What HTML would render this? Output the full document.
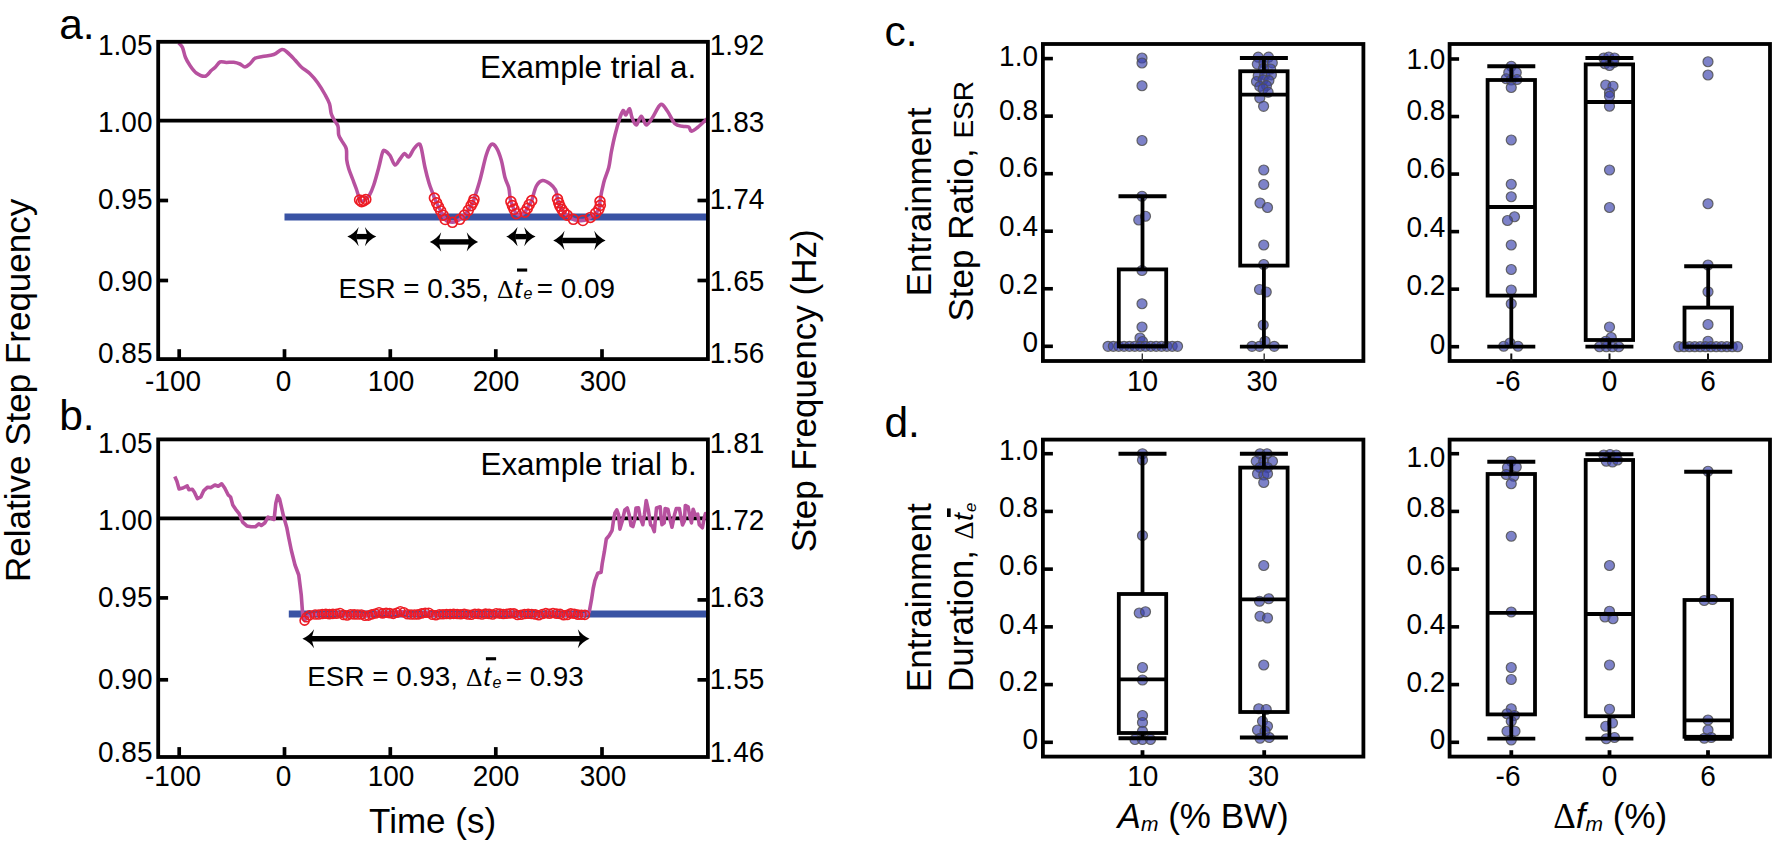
<!DOCTYPE html>
<html><head><meta charset="utf-8"><title>Figure</title>
<style>html,body{margin:0;padding:0;background:#fff}svg{display:block}</style></head>
<body><svg width="1773" height="845" viewBox="0 0 1773 845">
<rect width="1773" height="845" fill="#fff"/>
<g id="panelA">
<line x1="158.20" y1="120.60" x2="707.90" y2="120.60" stroke="#000" stroke-width="3.60" stroke-linecap="butt"/>
<line x1="284.50" y1="216.90" x2="707.90" y2="216.90" stroke="#3953A4" stroke-width="7.00" stroke-linecap="butt"/>
<path d="M178.75,43.00 C179.38,43.75 181.38,45.08 182.50,47.50 C183.62,49.92 184.25,54.50 185.50,57.50 C186.75,60.50 188.21,62.92 190.00,65.50 C191.79,68.08 193.75,71.21 196.25,73.00 C198.75,74.79 202.50,76.67 205.00,76.25 C207.50,75.83 209.50,72.04 211.25,70.50 C213.00,68.96 214.04,68.42 215.50,67.00 C216.96,65.58 218.21,62.75 220.00,62.00 C221.79,61.25 223.96,62.46 226.25,62.50 C228.54,62.54 231.46,62.00 233.75,62.25 C236.04,62.50 238.12,63.21 240.00,64.00 C241.88,64.79 243.33,67.04 245.00,67.00 C246.67,66.96 248.33,65.21 250.00,63.75 C251.67,62.29 252.92,59.46 255.00,58.25 C257.08,57.04 259.38,57.12 262.50,56.50 C265.62,55.88 270.50,55.67 273.75,54.50 C277.00,53.33 279.71,49.83 282.00,49.50 C284.29,49.17 285.33,50.75 287.50,52.50 C289.67,54.25 292.71,57.58 295.00,60.00 C297.29,62.42 298.75,64.71 301.25,67.00 C303.75,69.29 307.29,71.17 310.00,73.75 C312.71,76.33 315.00,79.04 317.50,82.50 C320.00,85.96 323.00,90.96 325.00,94.50 C327.00,98.04 328.46,100.54 329.50,103.75 C330.54,106.96 330.42,110.96 331.25,113.75 C332.08,116.54 333.38,118.42 334.50,120.50 C335.62,122.58 337.29,123.83 338.00,126.25 C338.71,128.67 338.08,132.50 338.75,135.00 C339.42,137.50 340.75,138.96 342.00,141.25 C343.25,143.54 345.46,145.62 346.25,148.75 C347.04,151.88 346.33,156.67 346.75,160.00 C347.17,163.33 347.79,165.62 348.75,168.75 C349.71,171.88 351.25,175.42 352.50,178.75 C353.75,182.08 355.07,185.38 356.25,188.75 C357.43,192.12 358.68,196.91 359.60,199.00 C360.53,201.09 360.98,201.10 361.80,201.30 C362.62,201.50 363.22,201.25 364.50,200.20 C365.78,199.15 367.96,197.53 369.50,195.00 C371.04,192.47 372.21,189.58 373.75,185.00 C375.29,180.42 377.29,172.92 378.75,167.50 C380.21,162.08 381.46,155.29 382.50,152.50 C383.54,149.71 383.75,150.25 385.00,150.75 C386.25,151.25 388.33,153.12 390.00,155.50 C391.67,157.88 393.33,164.42 395.00,165.00 C396.67,165.58 398.42,160.92 400.00,159.00 C401.58,157.08 403.04,153.83 404.50,153.50 C405.96,153.17 407.21,157.75 408.75,157.00 C410.29,156.25 412.08,151.17 413.75,149.00 C415.42,146.83 417.50,144.17 418.75,144.00 C420.00,143.83 420.21,144.08 421.25,148.00 C422.29,151.92 423.71,161.67 425.00,167.50 C426.29,173.33 427.67,178.58 429.00,183.00 C430.33,187.42 432.10,191.48 433.00,194.00 C433.90,196.52 433.80,196.63 434.40,198.10 C435.00,199.57 435.92,201.35 436.60,202.80 C437.28,204.25 437.82,205.45 438.50,206.80 C439.18,208.15 439.93,209.50 440.70,210.90 C441.47,212.30 442.35,213.77 443.10,215.20 C443.85,216.63 444.30,218.43 445.20,219.50 C446.10,220.57 447.30,221.13 448.50,221.60 C449.70,222.07 451.10,222.33 452.40,222.30 C453.70,222.27 455.07,221.90 456.30,221.40 C457.53,220.90 458.43,220.37 459.80,219.30 C461.17,218.23 463.08,216.50 464.50,215.00 C465.92,213.50 467.20,211.87 468.30,210.30 C469.40,208.73 470.32,206.93 471.10,205.60 C471.88,204.27 472.52,203.33 473.00,202.30 C473.48,201.27 472.83,203.12 474.00,199.40 C475.17,195.68 477.96,187.40 480.00,180.00 C482.04,172.60 484.38,160.92 486.25,155.00 C488.12,149.08 489.58,145.75 491.25,144.50 C492.92,143.25 494.58,144.92 496.25,147.50 C497.92,150.08 499.79,155.00 501.25,160.00 C502.71,165.00 503.75,172.92 505.00,177.50 C506.25,182.08 507.92,184.17 508.75,187.50 C509.58,190.83 509.64,195.15 510.00,197.50 C510.36,199.85 510.50,200.25 510.90,201.60 C511.30,202.95 511.88,204.32 512.40,205.60 C512.92,206.88 513.35,207.95 514.00,209.30 C514.65,210.65 515.22,212.72 516.30,213.70 C517.38,214.68 519.08,215.47 520.50,215.20 C521.92,214.93 523.67,213.23 524.80,212.10 C525.93,210.97 526.57,209.63 527.30,208.40 C528.03,207.17 528.47,206.00 529.20,204.70 C529.93,203.40 530.53,203.67 531.70,200.60 C532.88,197.53 534.45,189.60 536.25,186.25 C538.05,182.90 540.21,180.92 542.50,180.50 C544.79,180.08 547.83,182.17 550.00,183.75 C552.17,185.33 554.33,187.96 555.50,190.00 C556.67,192.04 556.67,194.48 557.00,196.00 C557.33,197.52 557.22,197.97 557.50,199.10 C557.78,200.23 558.30,201.62 558.70,202.80 C559.10,203.98 559.38,205.12 559.90,206.20 C560.42,207.28 561.12,208.27 561.80,209.30 C562.48,210.33 563.12,211.42 564.00,212.40 C564.88,213.38 565.55,214.05 567.10,215.20 C568.65,216.35 571.48,218.43 573.30,219.30 C575.12,220.17 576.40,220.20 578.00,220.40 C579.60,220.60 581.40,220.68 582.90,220.50 C584.40,220.32 585.75,219.82 587.00,219.30 C588.25,218.78 588.95,218.43 590.40,217.40 C591.85,216.37 594.30,214.45 595.70,213.10 C597.10,211.75 598.03,210.60 598.80,209.30 C599.57,208.00 600.10,206.63 600.30,205.30 C600.50,203.97 599.42,205.10 600.00,201.30 C600.58,197.50 602.29,188.13 603.75,182.50 C605.21,176.87 607.50,172.50 608.75,167.50 C610.00,162.50 610.21,157.92 611.25,152.50 C612.29,147.08 613.54,140.83 615.00,135.00 C616.46,129.17 618.62,121.58 620.00,117.50 C621.38,113.42 622.29,110.92 623.25,110.50 C624.21,110.08 624.71,115.29 625.75,115.00 C626.79,114.71 628.46,108.33 629.50,108.75 C630.54,109.17 630.88,114.79 632.00,117.50 C633.12,120.21 634.71,125.21 636.25,125.00 C637.79,124.79 639.58,116.25 641.25,116.25 C642.92,116.25 644.38,124.79 646.25,125.00 C648.12,125.21 650.08,120.92 652.50,117.50 C654.92,114.08 658.25,105.54 660.75,104.50 C663.25,103.46 665.12,108.04 667.50,111.25 C669.88,114.46 672.50,121.25 675.00,123.75 C677.50,126.25 680.21,125.71 682.50,126.25 C684.79,126.79 687.29,126.17 688.75,127.00 C690.21,127.83 689.79,131.17 691.25,131.25 C692.71,131.33 694.88,129.58 697.50,127.50 C700.12,125.42 705.42,120.21 707.00,118.75" fill="none" stroke="#B7519F" stroke-width="3.55" stroke-linejoin="round" stroke-linecap="butt"/>
<circle cx="359.60" cy="200.00" r="4.95" fill="none" stroke="#ED1C24" stroke-width="1.65"/>
<circle cx="361.60" cy="201.70" r="4.95" fill="none" stroke="#ED1C24" stroke-width="1.65"/>
<circle cx="363.60" cy="200.80" r="4.95" fill="none" stroke="#ED1C24" stroke-width="1.65"/>
<circle cx="365.80" cy="199.40" r="4.95" fill="none" stroke="#ED1C24" stroke-width="1.65"/>
<circle cx="434.40" cy="198.10" r="4.95" fill="none" stroke="#ED1C24" stroke-width="1.65"/>
<circle cx="436.60" cy="202.80" r="4.95" fill="none" stroke="#ED1C24" stroke-width="1.65"/>
<circle cx="438.50" cy="206.80" r="4.95" fill="none" stroke="#ED1C24" stroke-width="1.65"/>
<circle cx="440.70" cy="210.90" r="4.95" fill="none" stroke="#ED1C24" stroke-width="1.65"/>
<circle cx="443.10" cy="215.20" r="4.95" fill="none" stroke="#ED1C24" stroke-width="1.65"/>
<circle cx="445.20" cy="219.50" r="4.95" fill="none" stroke="#ED1C24" stroke-width="1.65"/>
<circle cx="452.40" cy="222.30" r="4.95" fill="none" stroke="#ED1C24" stroke-width="1.65"/>
<circle cx="459.80" cy="219.30" r="4.95" fill="none" stroke="#ED1C24" stroke-width="1.65"/>
<circle cx="464.50" cy="215.00" r="4.95" fill="none" stroke="#ED1C24" stroke-width="1.65"/>
<circle cx="468.30" cy="210.30" r="4.95" fill="none" stroke="#ED1C24" stroke-width="1.65"/>
<circle cx="471.10" cy="205.60" r="4.95" fill="none" stroke="#ED1C24" stroke-width="1.65"/>
<circle cx="473.00" cy="202.30" r="4.95" fill="none" stroke="#ED1C24" stroke-width="1.65"/>
<circle cx="474.00" cy="199.40" r="4.95" fill="none" stroke="#ED1C24" stroke-width="1.65"/>
<circle cx="510.90" cy="201.60" r="4.95" fill="none" stroke="#ED1C24" stroke-width="1.65"/>
<circle cx="512.40" cy="205.60" r="4.95" fill="none" stroke="#ED1C24" stroke-width="1.65"/>
<circle cx="514.00" cy="209.30" r="4.95" fill="none" stroke="#ED1C24" stroke-width="1.65"/>
<circle cx="516.30" cy="213.70" r="4.95" fill="none" stroke="#ED1C24" stroke-width="1.65"/>
<circle cx="524.80" cy="212.10" r="4.95" fill="none" stroke="#ED1C24" stroke-width="1.65"/>
<circle cx="527.30" cy="208.40" r="4.95" fill="none" stroke="#ED1C24" stroke-width="1.65"/>
<circle cx="529.20" cy="204.70" r="4.95" fill="none" stroke="#ED1C24" stroke-width="1.65"/>
<circle cx="531.70" cy="200.60" r="4.95" fill="none" stroke="#ED1C24" stroke-width="1.65"/>
<circle cx="557.50" cy="199.10" r="4.95" fill="none" stroke="#ED1C24" stroke-width="1.65"/>
<circle cx="558.70" cy="202.80" r="4.95" fill="none" stroke="#ED1C24" stroke-width="1.65"/>
<circle cx="559.90" cy="206.20" r="4.95" fill="none" stroke="#ED1C24" stroke-width="1.65"/>
<circle cx="561.80" cy="209.30" r="4.95" fill="none" stroke="#ED1C24" stroke-width="1.65"/>
<circle cx="564.00" cy="212.40" r="4.95" fill="none" stroke="#ED1C24" stroke-width="1.65"/>
<circle cx="567.10" cy="215.20" r="4.95" fill="none" stroke="#ED1C24" stroke-width="1.65"/>
<circle cx="573.30" cy="219.30" r="4.95" fill="none" stroke="#ED1C24" stroke-width="1.65"/>
<circle cx="582.90" cy="220.50" r="4.95" fill="none" stroke="#ED1C24" stroke-width="1.65"/>
<circle cx="590.40" cy="217.40" r="4.95" fill="none" stroke="#ED1C24" stroke-width="1.65"/>
<circle cx="595.70" cy="213.10" r="4.95" fill="none" stroke="#ED1C24" stroke-width="1.65"/>
<circle cx="598.80" cy="209.30" r="4.95" fill="none" stroke="#ED1C24" stroke-width="1.65"/>
<circle cx="600.30" cy="205.30" r="4.95" fill="none" stroke="#ED1C24" stroke-width="1.65"/>
<circle cx="600.00" cy="201.30" r="4.95" fill="none" stroke="#ED1C24" stroke-width="1.65"/>
<line x1="356.30" y1="236.60" x2="367.30" y2="236.60" stroke="#000" stroke-width="5.40"/>
<path d="M347.30,236.60 Q354.37,233.30 358.70,226.90 L356.80,233.90 L356.80,239.30 L358.70,246.30 Q354.37,239.90 347.30,236.60 Z" fill="#000"/>
<path d="M376.30,236.60 Q369.23,233.30 364.90,226.90 L366.80,233.90 L366.80,239.30 L364.90,246.30 Q369.23,239.90 376.30,236.60 Z" fill="#000"/>
<line x1="438.80" y1="241.90" x2="469.10" y2="241.90" stroke="#000" stroke-width="5.40"/>
<path d="M429.80,241.90 Q436.87,238.60 441.20,232.20 L439.30,239.20 L439.30,244.60 L441.20,251.60 Q436.87,245.20 429.80,241.90 Z" fill="#000"/>
<path d="M478.10,241.90 Q471.03,238.60 466.70,232.20 L468.60,239.20 L468.60,244.60 L466.70,251.60 Q471.03,245.20 478.10,241.90 Z" fill="#000"/>
<line x1="515.20" y1="236.60" x2="526.60" y2="236.60" stroke="#000" stroke-width="5.40"/>
<path d="M506.20,236.60 Q513.27,233.30 517.60,226.90 L515.70,233.90 L515.70,239.30 L517.60,246.30 Q513.27,239.90 506.20,236.60 Z" fill="#000"/>
<path d="M535.60,236.60 Q528.53,233.30 524.20,226.90 L526.10,233.90 L526.10,239.30 L524.20,246.30 Q528.53,239.90 535.60,236.60 Z" fill="#000"/>
<line x1="562.20" y1="240.50" x2="596.60" y2="240.50" stroke="#000" stroke-width="5.40"/>
<path d="M553.20,240.50 Q560.27,237.20 564.60,230.80 L562.70,237.80 L562.70,243.20 L564.60,250.20 Q560.27,243.80 553.20,240.50 Z" fill="#000"/>
<path d="M605.60,240.50 Q598.53,237.20 594.20,230.80 L596.10,237.80 L596.10,243.20 L594.20,250.20 Q598.53,243.80 605.60,240.50 Z" fill="#000"/>
<rect x="158.20" y="41.80" width="549.70" height="317.30" fill="none" stroke="#000" stroke-width="3.80"/>
<line x1="158.20" y1="200.50" x2="168.10" y2="200.50" stroke="#000" stroke-width="3.70" stroke-linecap="butt"/>
<line x1="697.50" y1="200.50" x2="707.90" y2="200.50" stroke="#000" stroke-width="3.70" stroke-linecap="butt"/>
<line x1="158.20" y1="280.50" x2="168.10" y2="280.50" stroke="#000" stroke-width="3.70" stroke-linecap="butt"/>
<line x1="697.50" y1="280.50" x2="707.90" y2="280.50" stroke="#000" stroke-width="3.70" stroke-linecap="butt"/>
<line x1="179.20" y1="359.10" x2="179.20" y2="349.20" stroke="#000" stroke-width="3.70" stroke-linecap="butt"/>
<line x1="284.50" y1="359.10" x2="284.50" y2="349.20" stroke="#000" stroke-width="3.70" stroke-linecap="butt"/>
<line x1="390.30" y1="359.10" x2="390.30" y2="349.20" stroke="#000" stroke-width="3.70" stroke-linecap="butt"/>
<line x1="495.80" y1="359.10" x2="495.80" y2="349.20" stroke="#000" stroke-width="3.70" stroke-linecap="butt"/>
<line x1="602.00" y1="359.10" x2="602.00" y2="349.20" stroke="#000" stroke-width="3.70" stroke-linecap="butt"/>
<text transform="translate(152.50,55.00) scale(1,1.045)" font-size="28.00" text-anchor="end" font-family='"Liberation Sans", Arial, sans-serif'>1.05</text>
<text transform="translate(152.50,131.80) scale(1,1.045)" font-size="28.00" text-anchor="end" font-family='"Liberation Sans", Arial, sans-serif'>1.00</text>
<text transform="translate(152.50,208.80) scale(1,1.045)" font-size="28.00" text-anchor="end" font-family='"Liberation Sans", Arial, sans-serif'>0.95</text>
<text transform="translate(152.50,290.60) scale(1,1.045)" font-size="28.00" text-anchor="end" font-family='"Liberation Sans", Arial, sans-serif'>0.90</text>
<text transform="translate(152.50,362.80) scale(1,1.045)" font-size="28.00" text-anchor="end" font-family='"Liberation Sans", Arial, sans-serif'>0.85</text>
<text transform="translate(709.80,55.00) scale(1,1.045)" font-size="28.00" text-anchor="start" font-family='"Liberation Sans", Arial, sans-serif'>1.92</text>
<text transform="translate(709.80,131.80) scale(1,1.045)" font-size="28.00" text-anchor="start" font-family='"Liberation Sans", Arial, sans-serif'>1.83</text>
<text transform="translate(709.80,208.80) scale(1,1.045)" font-size="28.00" text-anchor="start" font-family='"Liberation Sans", Arial, sans-serif'>1.74</text>
<text transform="translate(709.80,290.60) scale(1,1.045)" font-size="28.00" text-anchor="start" font-family='"Liberation Sans", Arial, sans-serif'>1.65</text>
<text transform="translate(709.80,362.80) scale(1,1.045)" font-size="28.00" text-anchor="start" font-family='"Liberation Sans", Arial, sans-serif'>1.56</text>
<text transform="translate(173.00,391.10) scale(1,1.045)" font-size="28.00" text-anchor="middle" font-family='"Liberation Sans", Arial, sans-serif'>-100</text>
<text transform="translate(283.50,391.10) scale(1,1.045)" font-size="28.00" text-anchor="middle" font-family='"Liberation Sans", Arial, sans-serif'>0</text>
<text transform="translate(391.00,391.10) scale(1,1.045)" font-size="28.00" text-anchor="middle" font-family='"Liberation Sans", Arial, sans-serif'>100</text>
<text transform="translate(496.00,391.10) scale(1,1.045)" font-size="28.00" text-anchor="middle" font-family='"Liberation Sans", Arial, sans-serif'>200</text>
<text transform="translate(603.00,391.10) scale(1,1.045)" font-size="28.00" text-anchor="middle" font-family='"Liberation Sans", Arial, sans-serif'>300</text>
<text x="696.30" y="77.80" font-size="31.40" text-anchor="end" font-family='"Liberation Sans", Arial, sans-serif' >Example trial a.</text>
</g>
<g id="panelB">
<line x1="158.20" y1="518.40" x2="707.90" y2="518.40" stroke="#000" stroke-width="3.60" stroke-linecap="butt"/>
<line x1="288.80" y1="614.10" x2="707.90" y2="614.10" stroke="#3953A4" stroke-width="7.00" stroke-linecap="butt"/>
<path d="M174.80,476.50 L176.90,481.20 L179.10,488.90 L182.90,488.00 L187.20,485.90 L188.90,489.70 L192.30,489.30 L194.40,492.30 L197.40,498.70 L200.80,497.00 L203.80,490.60 L207.60,487.20 L211.00,487.60 L214.90,485.00 L218.30,486.30 L221.70,483.80 L224.70,488.00 L228.10,494.80 L230.60,497.00 L232.80,505.10 L235.70,509.30 L239.10,513.60 L242.60,522.10 L246.80,525.90 L251.10,526.80 L255.30,526.80 L258.80,523.80 L261.30,525.50 L264.70,523.00 L268.10,517.00 L270.70,518.30 L274.10,519.50 L275.80,503.40 L277.70,495.70 L279.60,499.10 L283.50,516.10 L286.90,528.10 L288.60,537.00 L291.25,550.00 L295.00,565.00 L298.75,575.00 L301.25,595.00 L303.00,619.00 L304.60,620.60 L306.60,617.30 L309.50,615.30 L315.15,614.57 L318.70,614.54 L322.25,614.01 L325.80,613.70 L329.35,614.17 L332.90,613.86 L336.45,613.76 L340.00,612.95 L343.55,614.91 L347.10,615.50 L350.65,614.32 L354.20,614.38 L357.75,614.49 L361.30,614.45 L364.85,615.74 L368.40,615.58 L371.95,614.35 L375.50,613.44 L379.05,612.24 L382.60,613.39 L386.15,612.82 L389.70,613.16 L393.25,613.83 L396.80,612.78 L400.35,611.27 L403.90,612.18 L407.45,614.24 L411.00,614.54 L414.55,614.55 L418.10,614.41 L421.65,613.40 L425.20,612.78 L428.75,612.81 L432.30,614.82 L435.85,615.23 L439.40,614.20 L442.95,614.26 L446.50,614.03 L450.05,614.12 L453.60,613.86 L457.15,613.94 L460.70,614.23 L464.25,613.71 L467.80,614.52 L471.35,614.79 L474.90,613.76 L478.45,613.88 L482.00,614.44 L485.55,613.67 L489.10,613.90 L492.65,614.53 L496.20,613.29 L499.75,613.60 L503.30,614.07 L506.85,613.75 L510.40,613.37 L513.95,613.35 L517.50,614.97 L521.05,614.81 L524.60,613.98 L528.15,613.77 L531.70,613.95 L535.25,614.42 L538.80,615.19 L542.35,614.05 L545.90,613.13 L549.45,613.77 L553.00,613.03 L556.55,613.65 L560.10,613.90 L563.65,615.27 L567.20,614.92 L570.75,613.35 L574.30,613.78 L577.85,614.66 L581.40,614.68 L584.95,614.87 L589.20,612.10 L591.50,599.70 L593.20,588.50 L594.90,580.60 L597.70,573.30 L601.10,572.20 L602.20,563.70 L604.40,551.40 L606.30,539.00 L609.30,535.30 L612.10,530.30 L613.60,519.80 L614.90,513.00 L616.80,509.90 L618.60,514.80 L619.90,529.10 L622.30,521.00 L624.80,509.90 L627.30,508.00 L629.20,514.80 L631.00,525.40 L632.90,526.60 L634.70,519.80 L636.00,508.00 L638.50,507.70 L640.00,516.70 L642.80,524.70 L644.40,514.80 L646.20,500.50 L648.40,510.50 L650.60,524.70 L652.40,526.60 L654.30,531.60 L655.20,521.00 L656.50,508.00 L660.20,506.80 L661.10,517.90 L662.00,524.70 L664.20,522.90 L665.10,508.60 L667.90,509.20 L670.10,519.80 L672.00,527.20 L674.50,514.80 L676.30,508.60 L679.40,508.60 L681.30,519.20 L682.50,525.00 L684.40,521.00 L685.30,505.50 L688.10,506.80 L690.00,517.30 L691.50,522.90 L693.10,509.20 L695.20,514.80 L697.70,514.20 L699.30,524.70 L702.40,527.80 L704.20,517.90 L705.50,513.60 L707.50,514.20" fill="none" stroke="#B7519F" stroke-width="3.6" stroke-linejoin="round" stroke-linecap="butt"/>
<circle cx="304.60" cy="620.60" r="4.50" fill="none" stroke="#ED1C24" stroke-width="1.60"/>
<circle cx="306.60" cy="617.30" r="4.50" fill="none" stroke="#ED1C24" stroke-width="1.60"/>
<circle cx="309.50" cy="615.30" r="4.50" fill="none" stroke="#ED1C24" stroke-width="1.60"/>
<circle cx="315.15" cy="614.57" r="4.50" fill="none" stroke="#ED1C24" stroke-width="1.60"/>
<circle cx="318.70" cy="614.54" r="4.50" fill="none" stroke="#ED1C24" stroke-width="1.60"/>
<circle cx="322.25" cy="614.01" r="4.50" fill="none" stroke="#ED1C24" stroke-width="1.60"/>
<circle cx="325.80" cy="613.70" r="4.50" fill="none" stroke="#ED1C24" stroke-width="1.60"/>
<circle cx="329.35" cy="614.17" r="4.50" fill="none" stroke="#ED1C24" stroke-width="1.60"/>
<circle cx="332.90" cy="613.86" r="4.50" fill="none" stroke="#ED1C24" stroke-width="1.60"/>
<circle cx="336.45" cy="613.76" r="4.50" fill="none" stroke="#ED1C24" stroke-width="1.60"/>
<circle cx="340.00" cy="612.95" r="4.50" fill="none" stroke="#ED1C24" stroke-width="1.60"/>
<circle cx="343.55" cy="614.91" r="4.50" fill="none" stroke="#ED1C24" stroke-width="1.60"/>
<circle cx="347.10" cy="615.50" r="4.50" fill="none" stroke="#ED1C24" stroke-width="1.60"/>
<circle cx="350.65" cy="614.32" r="4.50" fill="none" stroke="#ED1C24" stroke-width="1.60"/>
<circle cx="354.20" cy="614.38" r="4.50" fill="none" stroke="#ED1C24" stroke-width="1.60"/>
<circle cx="357.75" cy="614.49" r="4.50" fill="none" stroke="#ED1C24" stroke-width="1.60"/>
<circle cx="361.30" cy="614.45" r="4.50" fill="none" stroke="#ED1C24" stroke-width="1.60"/>
<circle cx="364.85" cy="615.74" r="4.50" fill="none" stroke="#ED1C24" stroke-width="1.60"/>
<circle cx="368.40" cy="615.58" r="4.50" fill="none" stroke="#ED1C24" stroke-width="1.60"/>
<circle cx="371.95" cy="614.35" r="4.50" fill="none" stroke="#ED1C24" stroke-width="1.60"/>
<circle cx="375.50" cy="613.44" r="4.50" fill="none" stroke="#ED1C24" stroke-width="1.60"/>
<circle cx="379.05" cy="612.24" r="4.50" fill="none" stroke="#ED1C24" stroke-width="1.60"/>
<circle cx="382.60" cy="613.39" r="4.50" fill="none" stroke="#ED1C24" stroke-width="1.60"/>
<circle cx="386.15" cy="612.82" r="4.50" fill="none" stroke="#ED1C24" stroke-width="1.60"/>
<circle cx="389.70" cy="613.16" r="4.50" fill="none" stroke="#ED1C24" stroke-width="1.60"/>
<circle cx="393.25" cy="613.83" r="4.50" fill="none" stroke="#ED1C24" stroke-width="1.60"/>
<circle cx="396.80" cy="612.78" r="4.50" fill="none" stroke="#ED1C24" stroke-width="1.60"/>
<circle cx="400.35" cy="611.27" r="4.50" fill="none" stroke="#ED1C24" stroke-width="1.60"/>
<circle cx="403.90" cy="612.18" r="4.50" fill="none" stroke="#ED1C24" stroke-width="1.60"/>
<circle cx="407.45" cy="614.24" r="4.50" fill="none" stroke="#ED1C24" stroke-width="1.60"/>
<circle cx="411.00" cy="614.54" r="4.50" fill="none" stroke="#ED1C24" stroke-width="1.60"/>
<circle cx="414.55" cy="614.55" r="4.50" fill="none" stroke="#ED1C24" stroke-width="1.60"/>
<circle cx="418.10" cy="614.41" r="4.50" fill="none" stroke="#ED1C24" stroke-width="1.60"/>
<circle cx="421.65" cy="613.40" r="4.50" fill="none" stroke="#ED1C24" stroke-width="1.60"/>
<circle cx="425.20" cy="612.78" r="4.50" fill="none" stroke="#ED1C24" stroke-width="1.60"/>
<circle cx="428.75" cy="612.81" r="4.50" fill="none" stroke="#ED1C24" stroke-width="1.60"/>
<circle cx="432.30" cy="614.82" r="4.50" fill="none" stroke="#ED1C24" stroke-width="1.60"/>
<circle cx="435.85" cy="615.23" r="4.50" fill="none" stroke="#ED1C24" stroke-width="1.60"/>
<circle cx="439.40" cy="614.20" r="4.50" fill="none" stroke="#ED1C24" stroke-width="1.60"/>
<circle cx="442.95" cy="614.26" r="4.50" fill="none" stroke="#ED1C24" stroke-width="1.60"/>
<circle cx="446.50" cy="614.03" r="4.50" fill="none" stroke="#ED1C24" stroke-width="1.60"/>
<circle cx="450.05" cy="614.12" r="4.50" fill="none" stroke="#ED1C24" stroke-width="1.60"/>
<circle cx="453.60" cy="613.86" r="4.50" fill="none" stroke="#ED1C24" stroke-width="1.60"/>
<circle cx="457.15" cy="613.94" r="4.50" fill="none" stroke="#ED1C24" stroke-width="1.60"/>
<circle cx="460.70" cy="614.23" r="4.50" fill="none" stroke="#ED1C24" stroke-width="1.60"/>
<circle cx="464.25" cy="613.71" r="4.50" fill="none" stroke="#ED1C24" stroke-width="1.60"/>
<circle cx="467.80" cy="614.52" r="4.50" fill="none" stroke="#ED1C24" stroke-width="1.60"/>
<circle cx="471.35" cy="614.79" r="4.50" fill="none" stroke="#ED1C24" stroke-width="1.60"/>
<circle cx="474.90" cy="613.76" r="4.50" fill="none" stroke="#ED1C24" stroke-width="1.60"/>
<circle cx="478.45" cy="613.88" r="4.50" fill="none" stroke="#ED1C24" stroke-width="1.60"/>
<circle cx="482.00" cy="614.44" r="4.50" fill="none" stroke="#ED1C24" stroke-width="1.60"/>
<circle cx="485.55" cy="613.67" r="4.50" fill="none" stroke="#ED1C24" stroke-width="1.60"/>
<circle cx="489.10" cy="613.90" r="4.50" fill="none" stroke="#ED1C24" stroke-width="1.60"/>
<circle cx="492.65" cy="614.53" r="4.50" fill="none" stroke="#ED1C24" stroke-width="1.60"/>
<circle cx="496.20" cy="613.29" r="4.50" fill="none" stroke="#ED1C24" stroke-width="1.60"/>
<circle cx="499.75" cy="613.60" r="4.50" fill="none" stroke="#ED1C24" stroke-width="1.60"/>
<circle cx="503.30" cy="614.07" r="4.50" fill="none" stroke="#ED1C24" stroke-width="1.60"/>
<circle cx="506.85" cy="613.75" r="4.50" fill="none" stroke="#ED1C24" stroke-width="1.60"/>
<circle cx="510.40" cy="613.37" r="4.50" fill="none" stroke="#ED1C24" stroke-width="1.60"/>
<circle cx="513.95" cy="613.35" r="4.50" fill="none" stroke="#ED1C24" stroke-width="1.60"/>
<circle cx="517.50" cy="614.97" r="4.50" fill="none" stroke="#ED1C24" stroke-width="1.60"/>
<circle cx="521.05" cy="614.81" r="4.50" fill="none" stroke="#ED1C24" stroke-width="1.60"/>
<circle cx="524.60" cy="613.98" r="4.50" fill="none" stroke="#ED1C24" stroke-width="1.60"/>
<circle cx="528.15" cy="613.77" r="4.50" fill="none" stroke="#ED1C24" stroke-width="1.60"/>
<circle cx="531.70" cy="613.95" r="4.50" fill="none" stroke="#ED1C24" stroke-width="1.60"/>
<circle cx="535.25" cy="614.42" r="4.50" fill="none" stroke="#ED1C24" stroke-width="1.60"/>
<circle cx="538.80" cy="615.19" r="4.50" fill="none" stroke="#ED1C24" stroke-width="1.60"/>
<circle cx="542.35" cy="614.05" r="4.50" fill="none" stroke="#ED1C24" stroke-width="1.60"/>
<circle cx="545.90" cy="613.13" r="4.50" fill="none" stroke="#ED1C24" stroke-width="1.60"/>
<circle cx="549.45" cy="613.77" r="4.50" fill="none" stroke="#ED1C24" stroke-width="1.60"/>
<circle cx="553.00" cy="613.03" r="4.50" fill="none" stroke="#ED1C24" stroke-width="1.60"/>
<circle cx="556.55" cy="613.65" r="4.50" fill="none" stroke="#ED1C24" stroke-width="1.60"/>
<circle cx="560.10" cy="613.90" r="4.50" fill="none" stroke="#ED1C24" stroke-width="1.60"/>
<circle cx="563.65" cy="615.27" r="4.50" fill="none" stroke="#ED1C24" stroke-width="1.60"/>
<circle cx="567.20" cy="614.92" r="4.50" fill="none" stroke="#ED1C24" stroke-width="1.60"/>
<circle cx="570.75" cy="613.35" r="4.50" fill="none" stroke="#ED1C24" stroke-width="1.60"/>
<circle cx="574.30" cy="613.78" r="4.50" fill="none" stroke="#ED1C24" stroke-width="1.60"/>
<circle cx="577.85" cy="614.66" r="4.50" fill="none" stroke="#ED1C24" stroke-width="1.60"/>
<circle cx="581.40" cy="614.68" r="4.50" fill="none" stroke="#ED1C24" stroke-width="1.60"/>
<circle cx="584.95" cy="614.87" r="4.50" fill="none" stroke="#ED1C24" stroke-width="1.60"/>
<line x1="311.70" y1="638.70" x2="580.20" y2="638.70" stroke="#000" stroke-width="5.60"/>
<path d="M302.40,638.70 Q309.65,635.47 314.10,629.20 L312.20,635.90 L312.20,641.50 L314.10,648.20 Q309.65,641.93 302.40,638.70 Z" fill="#000"/>
<path d="M589.50,638.70 Q582.25,635.47 577.80,629.20 L579.70,635.90 L579.70,641.50 L577.80,648.20 Q582.25,641.93 589.50,638.70 Z" fill="#000"/>
<rect x="158.20" y="439.40" width="549.70" height="317.60" fill="none" stroke="#000" stroke-width="3.80"/>
<line x1="158.20" y1="597.90" x2="168.10" y2="597.90" stroke="#000" stroke-width="3.70" stroke-linecap="butt"/>
<line x1="697.50" y1="599.90" x2="707.90" y2="599.90" stroke="#000" stroke-width="3.70" stroke-linecap="butt"/>
<line x1="158.20" y1="679.80" x2="168.10" y2="679.80" stroke="#000" stroke-width="3.70" stroke-linecap="butt"/>
<line x1="697.50" y1="679.85" x2="707.90" y2="679.85" stroke="#000" stroke-width="3.70" stroke-linecap="butt"/>
<line x1="179.20" y1="757.00" x2="179.20" y2="747.10" stroke="#000" stroke-width="3.70" stroke-linecap="butt"/>
<line x1="284.50" y1="757.00" x2="284.50" y2="747.10" stroke="#000" stroke-width="3.70" stroke-linecap="butt"/>
<line x1="390.30" y1="757.00" x2="390.30" y2="747.10" stroke="#000" stroke-width="3.70" stroke-linecap="butt"/>
<line x1="495.80" y1="757.00" x2="495.80" y2="747.10" stroke="#000" stroke-width="3.70" stroke-linecap="butt"/>
<line x1="602.00" y1="757.00" x2="602.00" y2="747.10" stroke="#000" stroke-width="3.70" stroke-linecap="butt"/>
<text transform="translate(152.50,452.90) scale(1,1.045)" font-size="28.00" text-anchor="end" font-family='"Liberation Sans", Arial, sans-serif'>1.05</text>
<text transform="translate(152.50,529.90) scale(1,1.045)" font-size="28.00" text-anchor="end" font-family='"Liberation Sans", Arial, sans-serif'>1.00</text>
<text transform="translate(152.50,606.90) scale(1,1.045)" font-size="28.00" text-anchor="end" font-family='"Liberation Sans", Arial, sans-serif'>0.95</text>
<text transform="translate(152.50,688.80) scale(1,1.045)" font-size="28.00" text-anchor="end" font-family='"Liberation Sans", Arial, sans-serif'>0.90</text>
<text transform="translate(152.50,761.90) scale(1,1.045)" font-size="28.00" text-anchor="end" font-family='"Liberation Sans", Arial, sans-serif'>0.85</text>
<text transform="translate(709.80,452.90) scale(1,1.045)" font-size="28.00" text-anchor="start" font-family='"Liberation Sans", Arial, sans-serif'>1.81</text>
<text transform="translate(709.80,529.90) scale(1,1.045)" font-size="28.00" text-anchor="start" font-family='"Liberation Sans", Arial, sans-serif'>1.72</text>
<text transform="translate(709.80,606.90) scale(1,1.045)" font-size="28.00" text-anchor="start" font-family='"Liberation Sans", Arial, sans-serif'>1.63</text>
<text transform="translate(709.80,688.80) scale(1,1.045)" font-size="28.00" text-anchor="start" font-family='"Liberation Sans", Arial, sans-serif'>1.55</text>
<text transform="translate(709.80,761.90) scale(1,1.045)" font-size="28.00" text-anchor="start" font-family='"Liberation Sans", Arial, sans-serif'>1.46</text>
<text transform="translate(173.00,786.00) scale(1,1.045)" font-size="28.00" text-anchor="middle" font-family='"Liberation Sans", Arial, sans-serif'>-100</text>
<text transform="translate(283.50,786.00) scale(1,1.045)" font-size="28.00" text-anchor="middle" font-family='"Liberation Sans", Arial, sans-serif'>0</text>
<text transform="translate(391.00,786.00) scale(1,1.045)" font-size="28.00" text-anchor="middle" font-family='"Liberation Sans", Arial, sans-serif'>100</text>
<text transform="translate(496.00,786.00) scale(1,1.045)" font-size="28.00" text-anchor="middle" font-family='"Liberation Sans", Arial, sans-serif'>200</text>
<text transform="translate(603.00,786.00) scale(1,1.045)" font-size="28.00" text-anchor="middle" font-family='"Liberation Sans", Arial, sans-serif'>300</text>
<text x="696.80" y="475.00" font-size="31.40" text-anchor="end" font-family='"Liberation Sans", Arial, sans-serif' >Example trial b.</text>
</g>
<text x="59.20" y="39.20" font-size="42.50" text-anchor="start" font-family='"Liberation Sans", Arial, sans-serif' >a.</text>
<text x="59.20" y="429.80" font-size="42.50" text-anchor="start" font-family='"Liberation Sans", Arial, sans-serif' >b.</text>
<text x="884.40" y="46.00" font-size="42.50" text-anchor="start" font-family='"Liberation Sans", Arial, sans-serif' >c.</text>
<text x="884.40" y="437.10" font-size="42.50" text-anchor="start" font-family='"Liberation Sans", Arial, sans-serif' >d.</text>
<text transform="translate(29.7,582) rotate(-90)" font-size="35" font-family='"Liberation Sans", Arial, sans-serif'>Relative Step Frequency</text>
<text transform="translate(816.2,552.3) rotate(-90)" font-size="35" font-family='"Liberation Sans", Arial, sans-serif'>Step Frequency (Hz)</text>
<text x="432.60" y="833.10" font-size="35.00" text-anchor="middle" font-family='"Liberation Sans", Arial, sans-serif' >Time (s)</text>
<text x="338.40" y="297.60" font-size="27.80" font-family='"Liberation Sans", Arial, sans-serif'>ESR = 0.35,</text>
<text x="497.00" y="297.60" font-size="25.5" font-family='"Liberation Serif", "Times New Roman", serif'>Δ</text>
<text x="514.30" y="297.60" font-size="27.80" font-style="italic" font-family='"Liberation Sans", Arial, sans-serif'>t</text>
<text x="523.60" y="299.30" font-size="16" font-style="italic" font-family='"Liberation Sans", Arial, sans-serif'>e</text>
<text x="536.80" y="297.60" font-size="27.80" font-family='"Liberation Sans", Arial, sans-serif'>= 0.09</text>
<rect x="517.00" y="268.50" width="10.2" height="3.1" fill="#000"/>
<text x="307.30" y="686.30" font-size="27.80" font-family='"Liberation Sans", Arial, sans-serif'>ESR = 0.93,</text>
<text x="465.90" y="686.30" font-size="25.5" font-family='"Liberation Serif", "Times New Roman", serif'>Δ</text>
<text x="483.20" y="686.30" font-size="27.80" font-style="italic" font-family='"Liberation Sans", Arial, sans-serif'>t</text>
<text x="492.50" y="688.00" font-size="16" font-style="italic" font-family='"Liberation Sans", Arial, sans-serif'>e</text>
<text x="505.70" y="686.30" font-size="27.80" font-family='"Liberation Sans", Arial, sans-serif'>= 0.93</text>
<rect x="485.90" y="657.20" width="10.2" height="3.1" fill="#000"/>
<g id="cleft">
<circle cx="1142.00" cy="58.00" r="5.00" fill="#3a41ad" fill-opacity="0.66" stroke="#505050" stroke-opacity="0.85" stroke-width="1.2"/>
<circle cx="1142.00" cy="63.00" r="5.00" fill="#3a41ad" fill-opacity="0.66" stroke="#505050" stroke-opacity="0.85" stroke-width="1.2"/>
<circle cx="1142.00" cy="85.75" r="5.00" fill="#3a41ad" fill-opacity="0.66" stroke="#505050" stroke-opacity="0.85" stroke-width="1.2"/>
<circle cx="1142.00" cy="140.50" r="5.00" fill="#3a41ad" fill-opacity="0.66" stroke="#505050" stroke-opacity="0.85" stroke-width="1.2"/>
<circle cx="1142.00" cy="196.25" r="5.00" fill="#3a41ad" fill-opacity="0.66" stroke="#505050" stroke-opacity="0.85" stroke-width="1.2"/>
<circle cx="1138.75" cy="220.00" r="5.00" fill="#3a41ad" fill-opacity="0.66" stroke="#505050" stroke-opacity="0.85" stroke-width="1.2"/>
<circle cx="1145.50" cy="216.25" r="5.00" fill="#3a41ad" fill-opacity="0.66" stroke="#505050" stroke-opacity="0.85" stroke-width="1.2"/>
<circle cx="1142.00" cy="270.50" r="5.00" fill="#3a41ad" fill-opacity="0.66" stroke="#505050" stroke-opacity="0.85" stroke-width="1.2"/>
<circle cx="1142.00" cy="303.75" r="5.00" fill="#3a41ad" fill-opacity="0.66" stroke="#505050" stroke-opacity="0.85" stroke-width="1.2"/>
<circle cx="1142.00" cy="327.00" r="5.00" fill="#3a41ad" fill-opacity="0.66" stroke="#505050" stroke-opacity="0.85" stroke-width="1.2"/>
<circle cx="1140.00" cy="338.00" r="5.00" fill="#3a41ad" fill-opacity="0.66" stroke="#505050" stroke-opacity="0.85" stroke-width="1.2"/>
<circle cx="1142.50" cy="341.50" r="5.00" fill="#3a41ad" fill-opacity="0.66" stroke="#505050" stroke-opacity="0.85" stroke-width="1.2"/>
<circle cx="1108.00" cy="346.30" r="5.00" fill="#3a41ad" fill-opacity="0.66" stroke="#505050" stroke-opacity="0.85" stroke-width="1.2"/>
<circle cx="1113.35" cy="346.30" r="5.00" fill="#3a41ad" fill-opacity="0.66" stroke="#505050" stroke-opacity="0.85" stroke-width="1.2"/>
<circle cx="1118.70" cy="346.30" r="5.00" fill="#3a41ad" fill-opacity="0.66" stroke="#505050" stroke-opacity="0.85" stroke-width="1.2"/>
<circle cx="1124.05" cy="346.30" r="5.00" fill="#3a41ad" fill-opacity="0.66" stroke="#505050" stroke-opacity="0.85" stroke-width="1.2"/>
<circle cx="1129.40" cy="346.30" r="5.00" fill="#3a41ad" fill-opacity="0.66" stroke="#505050" stroke-opacity="0.85" stroke-width="1.2"/>
<circle cx="1134.75" cy="346.30" r="5.00" fill="#3a41ad" fill-opacity="0.66" stroke="#505050" stroke-opacity="0.85" stroke-width="1.2"/>
<circle cx="1140.10" cy="346.30" r="5.00" fill="#3a41ad" fill-opacity="0.66" stroke="#505050" stroke-opacity="0.85" stroke-width="1.2"/>
<circle cx="1145.45" cy="346.30" r="5.00" fill="#3a41ad" fill-opacity="0.66" stroke="#505050" stroke-opacity="0.85" stroke-width="1.2"/>
<circle cx="1150.80" cy="346.30" r="5.00" fill="#3a41ad" fill-opacity="0.66" stroke="#505050" stroke-opacity="0.85" stroke-width="1.2"/>
<circle cx="1156.15" cy="346.30" r="5.00" fill="#3a41ad" fill-opacity="0.66" stroke="#505050" stroke-opacity="0.85" stroke-width="1.2"/>
<circle cx="1161.50" cy="346.30" r="5.00" fill="#3a41ad" fill-opacity="0.66" stroke="#505050" stroke-opacity="0.85" stroke-width="1.2"/>
<circle cx="1166.85" cy="346.30" r="5.00" fill="#3a41ad" fill-opacity="0.66" stroke="#505050" stroke-opacity="0.85" stroke-width="1.2"/>
<circle cx="1172.20" cy="346.30" r="5.00" fill="#3a41ad" fill-opacity="0.66" stroke="#505050" stroke-opacity="0.85" stroke-width="1.2"/>
<circle cx="1177.55" cy="346.30" r="5.00" fill="#3a41ad" fill-opacity="0.66" stroke="#505050" stroke-opacity="0.85" stroke-width="1.2"/>
<circle cx="1258.20" cy="57.20" r="5.00" fill="#3a41ad" fill-opacity="0.66" stroke="#505050" stroke-opacity="0.85" stroke-width="1.2"/>
<circle cx="1268.50" cy="57.20" r="5.00" fill="#3a41ad" fill-opacity="0.66" stroke="#505050" stroke-opacity="0.85" stroke-width="1.2"/>
<circle cx="1257.30" cy="64.10" r="5.00" fill="#3a41ad" fill-opacity="0.66" stroke="#505050" stroke-opacity="0.85" stroke-width="1.2"/>
<circle cx="1264.00" cy="62.80" r="5.00" fill="#3a41ad" fill-opacity="0.66" stroke="#505050" stroke-opacity="0.85" stroke-width="1.2"/>
<circle cx="1272.30" cy="62.80" r="5.00" fill="#3a41ad" fill-opacity="0.66" stroke="#505050" stroke-opacity="0.85" stroke-width="1.2"/>
<circle cx="1270.60" cy="69.00" r="5.00" fill="#3a41ad" fill-opacity="0.66" stroke="#505050" stroke-opacity="0.85" stroke-width="1.2"/>
<circle cx="1263.50" cy="68.50" r="5.00" fill="#3a41ad" fill-opacity="0.66" stroke="#505050" stroke-opacity="0.85" stroke-width="1.2"/>
<circle cx="1258.20" cy="75.70" r="5.00" fill="#3a41ad" fill-opacity="0.66" stroke="#505050" stroke-opacity="0.85" stroke-width="1.2"/>
<circle cx="1264.80" cy="74.80" r="5.00" fill="#3a41ad" fill-opacity="0.66" stroke="#505050" stroke-opacity="0.85" stroke-width="1.2"/>
<circle cx="1271.40" cy="74.80" r="5.00" fill="#3a41ad" fill-opacity="0.66" stroke="#505050" stroke-opacity="0.85" stroke-width="1.2"/>
<circle cx="1256.50" cy="81.50" r="5.00" fill="#3a41ad" fill-opacity="0.66" stroke="#505050" stroke-opacity="0.85" stroke-width="1.2"/>
<circle cx="1263.10" cy="79.80" r="5.00" fill="#3a41ad" fill-opacity="0.66" stroke="#505050" stroke-opacity="0.85" stroke-width="1.2"/>
<circle cx="1268.90" cy="80.60" r="5.00" fill="#3a41ad" fill-opacity="0.66" stroke="#505050" stroke-opacity="0.85" stroke-width="1.2"/>
<circle cx="1259.80" cy="86.40" r="5.00" fill="#3a41ad" fill-opacity="0.66" stroke="#505050" stroke-opacity="0.85" stroke-width="1.2"/>
<circle cx="1266.50" cy="85.60" r="5.00" fill="#3a41ad" fill-opacity="0.66" stroke="#505050" stroke-opacity="0.85" stroke-width="1.2"/>
<circle cx="1263.10" cy="88.90" r="5.00" fill="#3a41ad" fill-opacity="0.66" stroke="#505050" stroke-opacity="0.85" stroke-width="1.2"/>
<circle cx="1268.10" cy="92.20" r="5.00" fill="#3a41ad" fill-opacity="0.66" stroke="#505050" stroke-opacity="0.85" stroke-width="1.2"/>
<circle cx="1259.80" cy="98.00" r="5.00" fill="#3a41ad" fill-opacity="0.66" stroke="#505050" stroke-opacity="0.85" stroke-width="1.2"/>
<circle cx="1263.60" cy="106.30" r="5.00" fill="#3a41ad" fill-opacity="0.66" stroke="#505050" stroke-opacity="0.85" stroke-width="1.2"/>
<circle cx="1263.75" cy="170.00" r="5.00" fill="#3a41ad" fill-opacity="0.66" stroke="#505050" stroke-opacity="0.85" stroke-width="1.2"/>
<circle cx="1263.75" cy="184.50" r="5.00" fill="#3a41ad" fill-opacity="0.66" stroke="#505050" stroke-opacity="0.85" stroke-width="1.2"/>
<circle cx="1260.00" cy="203.00" r="5.00" fill="#3a41ad" fill-opacity="0.66" stroke="#505050" stroke-opacity="0.85" stroke-width="1.2"/>
<circle cx="1267.50" cy="207.50" r="5.00" fill="#3a41ad" fill-opacity="0.66" stroke="#505050" stroke-opacity="0.85" stroke-width="1.2"/>
<circle cx="1263.75" cy="245.00" r="5.00" fill="#3a41ad" fill-opacity="0.66" stroke="#505050" stroke-opacity="0.85" stroke-width="1.2"/>
<circle cx="1263.75" cy="264.50" r="5.00" fill="#3a41ad" fill-opacity="0.66" stroke="#505050" stroke-opacity="0.85" stroke-width="1.2"/>
<circle cx="1259.50" cy="289.50" r="5.00" fill="#3a41ad" fill-opacity="0.66" stroke="#505050" stroke-opacity="0.85" stroke-width="1.2"/>
<circle cx="1266.25" cy="292.00" r="5.00" fill="#3a41ad" fill-opacity="0.66" stroke="#505050" stroke-opacity="0.85" stroke-width="1.2"/>
<circle cx="1263.25" cy="325.00" r="5.00" fill="#3a41ad" fill-opacity="0.66" stroke="#505050" stroke-opacity="0.85" stroke-width="1.2"/>
<circle cx="1265.00" cy="341.25" r="5.00" fill="#3a41ad" fill-opacity="0.66" stroke="#505050" stroke-opacity="0.85" stroke-width="1.2"/>
<circle cx="1252.00" cy="346.30" r="5.00" fill="#3a41ad" fill-opacity="0.66" stroke="#505050" stroke-opacity="0.85" stroke-width="1.2"/>
<circle cx="1259.50" cy="346.30" r="5.00" fill="#3a41ad" fill-opacity="0.66" stroke="#505050" stroke-opacity="0.85" stroke-width="1.2"/>
<circle cx="1274.25" cy="346.30" r="5.00" fill="#3a41ad" fill-opacity="0.66" stroke="#505050" stroke-opacity="0.85" stroke-width="1.2"/>
<line x1="1142.50" y1="196.25" x2="1142.50" y2="269.40" stroke="#000" stroke-width="3.80" stroke-linecap="butt"/>
<line x1="1118.50" y1="196.25" x2="1166.50" y2="196.25" stroke="#000" stroke-width="3.80" stroke-linecap="butt"/>
<rect x="1118.80" y="269.40" width="47.40" height="76.90" fill="none" stroke="#000" stroke-width="3.80"/>
<line x1="1118.80" y1="346.30" x2="1166.20" y2="346.30" stroke="#000" stroke-width="3.80" stroke-linecap="butt"/>
<line x1="1263.90" y1="58.00" x2="1263.90" y2="71.25" stroke="#000" stroke-width="3.80" stroke-linecap="butt"/>
<line x1="1239.90" y1="58.00" x2="1287.90" y2="58.00" stroke="#000" stroke-width="3.80" stroke-linecap="butt"/>
<line x1="1263.90" y1="265.60" x2="1263.90" y2="346.60" stroke="#000" stroke-width="3.80" stroke-linecap="butt"/>
<line x1="1239.90" y1="346.60" x2="1287.90" y2="346.60" stroke="#000" stroke-width="3.80" stroke-linecap="butt"/>
<rect x="1240.20" y="71.25" width="47.40" height="194.35" fill="none" stroke="#000" stroke-width="3.80"/>
<line x1="1240.20" y1="94.60" x2="1287.60" y2="94.60" stroke="#000" stroke-width="3.80" stroke-linecap="butt"/>
<rect x="1042.90" y="44.00" width="320.50" height="317.00" fill="none" stroke="#000" stroke-width="3.80"/>
<line x1="1042.90" y1="346.30" x2="1052.90" y2="346.30" stroke="#000" stroke-width="3.60" stroke-linecap="butt"/>
<line x1="1042.90" y1="288.76" x2="1052.90" y2="288.76" stroke="#000" stroke-width="3.60" stroke-linecap="butt"/>
<line x1="1042.90" y1="231.22" x2="1052.90" y2="231.22" stroke="#000" stroke-width="3.60" stroke-linecap="butt"/>
<line x1="1042.90" y1="173.68" x2="1052.90" y2="173.68" stroke="#000" stroke-width="3.60" stroke-linecap="butt"/>
<line x1="1042.90" y1="116.14" x2="1052.90" y2="116.14" stroke="#000" stroke-width="3.60" stroke-linecap="butt"/>
<line x1="1042.90" y1="58.60" x2="1052.90" y2="58.60" stroke="#000" stroke-width="3.60" stroke-linecap="butt"/>
<line x1="1142.30" y1="361.00" x2="1142.30" y2="353.50" stroke="#333" stroke-width="1.40" stroke-linecap="butt"/>
<line x1="1264.20" y1="361.00" x2="1264.20" y2="353.50" stroke="#333" stroke-width="1.40" stroke-linecap="butt"/>
<text transform="translate(1038.00,65.90) scale(1,1.045)" font-size="28.00" text-anchor="end" font-family='"Liberation Sans", Arial, sans-serif'>1.0</text>
<text transform="translate(1038.00,119.80) scale(1,1.045)" font-size="28.00" text-anchor="end" font-family='"Liberation Sans", Arial, sans-serif'>0.8</text>
<text transform="translate(1038.00,177.10) scale(1,1.045)" font-size="28.00" text-anchor="end" font-family='"Liberation Sans", Arial, sans-serif'>0.6</text>
<text transform="translate(1038.00,236.20) scale(1,1.045)" font-size="28.00" text-anchor="end" font-family='"Liberation Sans", Arial, sans-serif'>0.4</text>
<text transform="translate(1038.00,293.80) scale(1,1.045)" font-size="28.00" text-anchor="end" font-family='"Liberation Sans", Arial, sans-serif'>0.2</text>
<text transform="translate(1038.00,352.40) scale(1,1.045)" font-size="28.00" text-anchor="end" font-family='"Liberation Sans", Arial, sans-serif'>0</text>
<text transform="translate(1142.60,391.30) scale(1,1.045)" font-size="28.00" text-anchor="middle" font-family='"Liberation Sans", Arial, sans-serif'>10</text>
<text transform="translate(1262.00,391.30) scale(1,1.045)" font-size="28.00" text-anchor="middle" font-family='"Liberation Sans", Arial, sans-serif'>30</text>
</g>
<g id="cright">
<circle cx="1511.25" cy="66.25" r="5.00" fill="#3a41ad" fill-opacity="0.66" stroke="#505050" stroke-opacity="0.85" stroke-width="1.2"/>
<circle cx="1508.75" cy="72.50" r="5.00" fill="#3a41ad" fill-opacity="0.66" stroke="#505050" stroke-opacity="0.85" stroke-width="1.2"/>
<circle cx="1516.25" cy="72.50" r="5.00" fill="#3a41ad" fill-opacity="0.66" stroke="#505050" stroke-opacity="0.85" stroke-width="1.2"/>
<circle cx="1506.25" cy="78.75" r="5.00" fill="#3a41ad" fill-opacity="0.66" stroke="#505050" stroke-opacity="0.85" stroke-width="1.2"/>
<circle cx="1511.25" cy="80.00" r="5.00" fill="#3a41ad" fill-opacity="0.66" stroke="#505050" stroke-opacity="0.85" stroke-width="1.2"/>
<circle cx="1517.00" cy="79.50" r="5.00" fill="#3a41ad" fill-opacity="0.66" stroke="#505050" stroke-opacity="0.85" stroke-width="1.2"/>
<circle cx="1511.25" cy="87.50" r="5.00" fill="#3a41ad" fill-opacity="0.66" stroke="#505050" stroke-opacity="0.85" stroke-width="1.2"/>
<circle cx="1511.25" cy="140.00" r="5.00" fill="#3a41ad" fill-opacity="0.66" stroke="#505050" stroke-opacity="0.85" stroke-width="1.2"/>
<circle cx="1511.25" cy="184.25" r="5.00" fill="#3a41ad" fill-opacity="0.66" stroke="#505050" stroke-opacity="0.85" stroke-width="1.2"/>
<circle cx="1511.25" cy="196.75" r="5.00" fill="#3a41ad" fill-opacity="0.66" stroke="#505050" stroke-opacity="0.85" stroke-width="1.2"/>
<circle cx="1603.75" cy="58.00" r="5.00" fill="#3a41ad" fill-opacity="0.66" stroke="#505050" stroke-opacity="0.85" stroke-width="1.2"/>
<circle cx="1608.75" cy="57.00" r="5.00" fill="#3a41ad" fill-opacity="0.66" stroke="#505050" stroke-opacity="0.85" stroke-width="1.2"/>
<circle cx="1614.50" cy="58.00" r="5.00" fill="#3a41ad" fill-opacity="0.66" stroke="#505050" stroke-opacity="0.85" stroke-width="1.2"/>
<circle cx="1605.00" cy="63.75" r="5.00" fill="#3a41ad" fill-opacity="0.66" stroke="#505050" stroke-opacity="0.85" stroke-width="1.2"/>
<circle cx="1613.75" cy="62.50" r="5.00" fill="#3a41ad" fill-opacity="0.66" stroke="#505050" stroke-opacity="0.85" stroke-width="1.2"/>
<circle cx="1609.50" cy="65.50" r="5.00" fill="#3a41ad" fill-opacity="0.66" stroke="#505050" stroke-opacity="0.85" stroke-width="1.2"/>
<circle cx="1605.75" cy="85.00" r="5.00" fill="#3a41ad" fill-opacity="0.66" stroke="#505050" stroke-opacity="0.85" stroke-width="1.2"/>
<circle cx="1613.00" cy="86.25" r="5.00" fill="#3a41ad" fill-opacity="0.66" stroke="#505050" stroke-opacity="0.85" stroke-width="1.2"/>
<circle cx="1609.50" cy="92.50" r="5.00" fill="#3a41ad" fill-opacity="0.66" stroke="#505050" stroke-opacity="0.85" stroke-width="1.2"/>
<circle cx="1609.50" cy="96.25" r="5.00" fill="#3a41ad" fill-opacity="0.66" stroke="#505050" stroke-opacity="0.85" stroke-width="1.2"/>
<circle cx="1609.50" cy="106.25" r="5.00" fill="#3a41ad" fill-opacity="0.66" stroke="#505050" stroke-opacity="0.85" stroke-width="1.2"/>
<circle cx="1609.50" cy="170.00" r="5.00" fill="#3a41ad" fill-opacity="0.66" stroke="#505050" stroke-opacity="0.85" stroke-width="1.2"/>
<circle cx="1609.50" cy="207.50" r="5.00" fill="#3a41ad" fill-opacity="0.66" stroke="#505050" stroke-opacity="0.85" stroke-width="1.2"/>
<circle cx="1708.00" cy="61.75" r="5.00" fill="#3a41ad" fill-opacity="0.66" stroke="#505050" stroke-opacity="0.85" stroke-width="1.2"/>
<circle cx="1708.00" cy="75.00" r="5.00" fill="#3a41ad" fill-opacity="0.66" stroke="#505050" stroke-opacity="0.85" stroke-width="1.2"/>
<circle cx="1708.00" cy="203.75" r="5.00" fill="#3a41ad" fill-opacity="0.66" stroke="#505050" stroke-opacity="0.85" stroke-width="1.2"/>
<circle cx="1514.50" cy="216.75" r="5.00" fill="#3a41ad" fill-opacity="0.66" stroke="#505050" stroke-opacity="0.85" stroke-width="1.2"/>
<circle cx="1507.50" cy="220.50" r="5.00" fill="#3a41ad" fill-opacity="0.66" stroke="#505050" stroke-opacity="0.85" stroke-width="1.2"/>
<circle cx="1511.25" cy="245.00" r="5.00" fill="#3a41ad" fill-opacity="0.66" stroke="#505050" stroke-opacity="0.85" stroke-width="1.2"/>
<circle cx="1511.25" cy="269.50" r="5.00" fill="#3a41ad" fill-opacity="0.66" stroke="#505050" stroke-opacity="0.85" stroke-width="1.2"/>
<circle cx="1511.25" cy="290.00" r="5.00" fill="#3a41ad" fill-opacity="0.66" stroke="#505050" stroke-opacity="0.85" stroke-width="1.2"/>
<circle cx="1511.25" cy="303.75" r="5.00" fill="#3a41ad" fill-opacity="0.66" stroke="#505050" stroke-opacity="0.85" stroke-width="1.2"/>
<circle cx="1503.75" cy="346.25" r="5.00" fill="#3a41ad" fill-opacity="0.66" stroke="#505050" stroke-opacity="0.85" stroke-width="1.2"/>
<circle cx="1510.00" cy="343.00" r="5.00" fill="#3a41ad" fill-opacity="0.66" stroke="#505050" stroke-opacity="0.85" stroke-width="1.2"/>
<circle cx="1518.00" cy="346.25" r="5.00" fill="#3a41ad" fill-opacity="0.66" stroke="#505050" stroke-opacity="0.85" stroke-width="1.2"/>
<circle cx="1609.50" cy="327.00" r="5.00" fill="#3a41ad" fill-opacity="0.66" stroke="#505050" stroke-opacity="0.85" stroke-width="1.2"/>
<circle cx="1611.25" cy="337.50" r="5.00" fill="#3a41ad" fill-opacity="0.66" stroke="#505050" stroke-opacity="0.85" stroke-width="1.2"/>
<circle cx="1605.75" cy="341.25" r="5.00" fill="#3a41ad" fill-opacity="0.66" stroke="#505050" stroke-opacity="0.85" stroke-width="1.2"/>
<circle cx="1599.50" cy="346.75" r="5.00" fill="#3a41ad" fill-opacity="0.66" stroke="#505050" stroke-opacity="0.85" stroke-width="1.2"/>
<circle cx="1606.25" cy="346.75" r="5.00" fill="#3a41ad" fill-opacity="0.66" stroke="#505050" stroke-opacity="0.85" stroke-width="1.2"/>
<circle cx="1612.50" cy="346.75" r="5.00" fill="#3a41ad" fill-opacity="0.66" stroke="#505050" stroke-opacity="0.85" stroke-width="1.2"/>
<circle cx="1618.75" cy="346.75" r="5.00" fill="#3a41ad" fill-opacity="0.66" stroke="#505050" stroke-opacity="0.85" stroke-width="1.2"/>
<circle cx="1708.00" cy="265.00" r="5.00" fill="#3a41ad" fill-opacity="0.66" stroke="#505050" stroke-opacity="0.85" stroke-width="1.2"/>
<circle cx="1708.00" cy="291.75" r="5.00" fill="#3a41ad" fill-opacity="0.66" stroke="#505050" stroke-opacity="0.85" stroke-width="1.2"/>
<circle cx="1708.00" cy="324.50" r="5.00" fill="#3a41ad" fill-opacity="0.66" stroke="#505050" stroke-opacity="0.85" stroke-width="1.2"/>
<circle cx="1708.00" cy="341.25" r="5.00" fill="#3a41ad" fill-opacity="0.66" stroke="#505050" stroke-opacity="0.85" stroke-width="1.2"/>
<circle cx="1678.75" cy="346.70" r="5.00" fill="#3a41ad" fill-opacity="0.66" stroke="#505050" stroke-opacity="0.85" stroke-width="1.2"/>
<circle cx="1684.10" cy="346.70" r="5.00" fill="#3a41ad" fill-opacity="0.66" stroke="#505050" stroke-opacity="0.85" stroke-width="1.2"/>
<circle cx="1689.45" cy="346.70" r="5.00" fill="#3a41ad" fill-opacity="0.66" stroke="#505050" stroke-opacity="0.85" stroke-width="1.2"/>
<circle cx="1694.80" cy="346.70" r="5.00" fill="#3a41ad" fill-opacity="0.66" stroke="#505050" stroke-opacity="0.85" stroke-width="1.2"/>
<circle cx="1700.15" cy="346.70" r="5.00" fill="#3a41ad" fill-opacity="0.66" stroke="#505050" stroke-opacity="0.85" stroke-width="1.2"/>
<circle cx="1705.50" cy="346.70" r="5.00" fill="#3a41ad" fill-opacity="0.66" stroke="#505050" stroke-opacity="0.85" stroke-width="1.2"/>
<circle cx="1710.85" cy="346.70" r="5.00" fill="#3a41ad" fill-opacity="0.66" stroke="#505050" stroke-opacity="0.85" stroke-width="1.2"/>
<circle cx="1716.20" cy="346.70" r="5.00" fill="#3a41ad" fill-opacity="0.66" stroke="#505050" stroke-opacity="0.85" stroke-width="1.2"/>
<circle cx="1721.55" cy="346.70" r="5.00" fill="#3a41ad" fill-opacity="0.66" stroke="#505050" stroke-opacity="0.85" stroke-width="1.2"/>
<circle cx="1726.90" cy="346.70" r="5.00" fill="#3a41ad" fill-opacity="0.66" stroke="#505050" stroke-opacity="0.85" stroke-width="1.2"/>
<circle cx="1732.25" cy="346.70" r="5.00" fill="#3a41ad" fill-opacity="0.66" stroke="#505050" stroke-opacity="0.85" stroke-width="1.2"/>
<circle cx="1737.60" cy="346.70" r="5.00" fill="#3a41ad" fill-opacity="0.66" stroke="#505050" stroke-opacity="0.85" stroke-width="1.2"/>
<line x1="1511.30" y1="66.25" x2="1511.30" y2="80.00" stroke="#000" stroke-width="3.80" stroke-linecap="butt"/>
<line x1="1487.30" y1="66.25" x2="1535.30" y2="66.25" stroke="#000" stroke-width="3.80" stroke-linecap="butt"/>
<line x1="1511.30" y1="295.60" x2="1511.30" y2="346.70" stroke="#000" stroke-width="3.80" stroke-linecap="butt"/>
<line x1="1487.30" y1="346.70" x2="1535.30" y2="346.70" stroke="#000" stroke-width="3.80" stroke-linecap="butt"/>
<rect x="1487.60" y="80.00" width="47.40" height="215.60" fill="none" stroke="#000" stroke-width="3.80"/>
<line x1="1487.60" y1="207.00" x2="1535.00" y2="207.00" stroke="#000" stroke-width="3.80" stroke-linecap="butt"/>
<line x1="1609.40" y1="58.00" x2="1609.40" y2="64.40" stroke="#000" stroke-width="3.80" stroke-linecap="butt"/>
<line x1="1585.40" y1="58.00" x2="1633.40" y2="58.00" stroke="#000" stroke-width="3.80" stroke-linecap="butt"/>
<line x1="1609.40" y1="340.00" x2="1609.40" y2="346.70" stroke="#000" stroke-width="3.80" stroke-linecap="butt"/>
<line x1="1585.40" y1="346.70" x2="1633.40" y2="346.70" stroke="#000" stroke-width="3.80" stroke-linecap="butt"/>
<rect x="1585.70" y="64.40" width="47.40" height="275.60" fill="none" stroke="#000" stroke-width="3.80"/>
<line x1="1585.70" y1="102.00" x2="1633.10" y2="102.00" stroke="#000" stroke-width="3.80" stroke-linecap="butt"/>
<line x1="1708.20" y1="266.25" x2="1708.20" y2="307.60" stroke="#000" stroke-width="3.80" stroke-linecap="butt"/>
<line x1="1684.20" y1="266.25" x2="1732.20" y2="266.25" stroke="#000" stroke-width="3.80" stroke-linecap="butt"/>
<rect x="1684.50" y="307.60" width="47.40" height="39.10" fill="none" stroke="#000" stroke-width="3.80"/>
<line x1="1684.50" y1="346.70" x2="1731.90" y2="346.70" stroke="#000" stroke-width="3.80" stroke-linecap="butt"/>
<rect x="1449.60" y="44.00" width="320.40" height="317.00" fill="none" stroke="#000" stroke-width="3.80"/>
<line x1="1449.60" y1="346.70" x2="1459.10" y2="346.70" stroke="#000" stroke-width="3.60" stroke-linecap="butt"/>
<line x1="1449.60" y1="289.16" x2="1459.10" y2="289.16" stroke="#000" stroke-width="3.60" stroke-linecap="butt"/>
<line x1="1449.60" y1="231.62" x2="1459.10" y2="231.62" stroke="#000" stroke-width="3.60" stroke-linecap="butt"/>
<line x1="1449.60" y1="174.08" x2="1459.10" y2="174.08" stroke="#000" stroke-width="3.60" stroke-linecap="butt"/>
<line x1="1449.60" y1="116.54" x2="1459.10" y2="116.54" stroke="#000" stroke-width="3.60" stroke-linecap="butt"/>
<line x1="1449.60" y1="59.00" x2="1459.10" y2="59.00" stroke="#000" stroke-width="3.60" stroke-linecap="butt"/>
<line x1="1511.30" y1="361.00" x2="1511.30" y2="353.50" stroke="#111" stroke-width="2.00" stroke-linecap="butt"/>
<line x1="1609.50" y1="361.00" x2="1609.50" y2="353.50" stroke="#111" stroke-width="2.00" stroke-linecap="butt"/>
<line x1="1708.00" y1="361.00" x2="1708.00" y2="353.50" stroke="#111" stroke-width="2.00" stroke-linecap="butt"/>
<text transform="translate(1445.30,68.60) scale(1,1.045)" font-size="28.00" text-anchor="end" font-family='"Liberation Sans", Arial, sans-serif'>1.0</text>
<text transform="translate(1445.30,119.80) scale(1,1.045)" font-size="28.00" text-anchor="end" font-family='"Liberation Sans", Arial, sans-serif'>0.8</text>
<text transform="translate(1445.30,178.40) scale(1,1.045)" font-size="28.00" text-anchor="end" font-family='"Liberation Sans", Arial, sans-serif'>0.6</text>
<text transform="translate(1445.30,237.20) scale(1,1.045)" font-size="28.00" text-anchor="end" font-family='"Liberation Sans", Arial, sans-serif'>0.4</text>
<text transform="translate(1445.30,295.40) scale(1,1.045)" font-size="28.00" text-anchor="end" font-family='"Liberation Sans", Arial, sans-serif'>0.2</text>
<text transform="translate(1445.30,353.80) scale(1,1.045)" font-size="28.00" text-anchor="end" font-family='"Liberation Sans", Arial, sans-serif'>0</text>
<text transform="translate(1508.00,391.30) scale(1,1.045)" font-size="28.00" text-anchor="middle" font-family='"Liberation Sans", Arial, sans-serif'>-6</text>
<text transform="translate(1609.50,391.30) scale(1,1.045)" font-size="28.00" text-anchor="middle" font-family='"Liberation Sans", Arial, sans-serif'>0</text>
<text transform="translate(1708.00,391.30) scale(1,1.045)" font-size="28.00" text-anchor="middle" font-family='"Liberation Sans", Arial, sans-serif'>6</text>
</g>
<g id="dleft">
<circle cx="1142.50" cy="453.75" r="5.00" fill="#3a41ad" fill-opacity="0.66" stroke="#505050" stroke-opacity="0.85" stroke-width="1.2"/>
<circle cx="1142.50" cy="460.00" r="5.00" fill="#3a41ad" fill-opacity="0.66" stroke="#505050" stroke-opacity="0.85" stroke-width="1.2"/>
<circle cx="1142.50" cy="535.50" r="5.00" fill="#3a41ad" fill-opacity="0.66" stroke="#505050" stroke-opacity="0.85" stroke-width="1.2"/>
<circle cx="1260.00" cy="453.75" r="5.00" fill="#3a41ad" fill-opacity="0.66" stroke="#505050" stroke-opacity="0.85" stroke-width="1.2"/>
<circle cx="1267.00" cy="453.75" r="5.00" fill="#3a41ad" fill-opacity="0.66" stroke="#505050" stroke-opacity="0.85" stroke-width="1.2"/>
<circle cx="1256.25" cy="461.25" r="5.00" fill="#3a41ad" fill-opacity="0.66" stroke="#505050" stroke-opacity="0.85" stroke-width="1.2"/>
<circle cx="1263.75" cy="461.25" r="5.00" fill="#3a41ad" fill-opacity="0.66" stroke="#505050" stroke-opacity="0.85" stroke-width="1.2"/>
<circle cx="1272.50" cy="461.25" r="5.00" fill="#3a41ad" fill-opacity="0.66" stroke="#505050" stroke-opacity="0.85" stroke-width="1.2"/>
<circle cx="1260.00" cy="467.50" r="5.00" fill="#3a41ad" fill-opacity="0.66" stroke="#505050" stroke-opacity="0.85" stroke-width="1.2"/>
<circle cx="1267.50" cy="467.50" r="5.00" fill="#3a41ad" fill-opacity="0.66" stroke="#505050" stroke-opacity="0.85" stroke-width="1.2"/>
<circle cx="1257.50" cy="473.75" r="5.00" fill="#3a41ad" fill-opacity="0.66" stroke="#505050" stroke-opacity="0.85" stroke-width="1.2"/>
<circle cx="1263.75" cy="475.00" r="5.00" fill="#3a41ad" fill-opacity="0.66" stroke="#505050" stroke-opacity="0.85" stroke-width="1.2"/>
<circle cx="1267.50" cy="473.75" r="5.00" fill="#3a41ad" fill-opacity="0.66" stroke="#505050" stroke-opacity="0.85" stroke-width="1.2"/>
<circle cx="1263.75" cy="482.50" r="5.00" fill="#3a41ad" fill-opacity="0.66" stroke="#505050" stroke-opacity="0.85" stroke-width="1.2"/>
<circle cx="1263.75" cy="565.50" r="5.00" fill="#3a41ad" fill-opacity="0.66" stroke="#505050" stroke-opacity="0.85" stroke-width="1.2"/>
<circle cx="1259.50" cy="601.25" r="5.00" fill="#3a41ad" fill-opacity="0.66" stroke="#505050" stroke-opacity="0.85" stroke-width="1.2"/>
<circle cx="1268.75" cy="598.75" r="5.00" fill="#3a41ad" fill-opacity="0.66" stroke="#505050" stroke-opacity="0.85" stroke-width="1.2"/>
<circle cx="1139.25" cy="613.00" r="5.00" fill="#3a41ad" fill-opacity="0.66" stroke="#505050" stroke-opacity="0.85" stroke-width="1.2"/>
<circle cx="1145.50" cy="611.75" r="5.00" fill="#3a41ad" fill-opacity="0.66" stroke="#505050" stroke-opacity="0.85" stroke-width="1.2"/>
<circle cx="1142.50" cy="667.50" r="5.00" fill="#3a41ad" fill-opacity="0.66" stroke="#505050" stroke-opacity="0.85" stroke-width="1.2"/>
<circle cx="1142.50" cy="680.00" r="5.00" fill="#3a41ad" fill-opacity="0.66" stroke="#505050" stroke-opacity="0.85" stroke-width="1.2"/>
<circle cx="1142.50" cy="715.50" r="5.00" fill="#3a41ad" fill-opacity="0.66" stroke="#505050" stroke-opacity="0.85" stroke-width="1.2"/>
<circle cx="1142.50" cy="722.50" r="5.00" fill="#3a41ad" fill-opacity="0.66" stroke="#505050" stroke-opacity="0.85" stroke-width="1.2"/>
<circle cx="1142.50" cy="731.25" r="5.00" fill="#3a41ad" fill-opacity="0.66" stroke="#505050" stroke-opacity="0.85" stroke-width="1.2"/>
<circle cx="1135.00" cy="739.50" r="5.00" fill="#3a41ad" fill-opacity="0.66" stroke="#505050" stroke-opacity="0.85" stroke-width="1.2"/>
<circle cx="1142.50" cy="739.50" r="5.00" fill="#3a41ad" fill-opacity="0.66" stroke="#505050" stroke-opacity="0.85" stroke-width="1.2"/>
<circle cx="1150.50" cy="739.50" r="5.00" fill="#3a41ad" fill-opacity="0.66" stroke="#505050" stroke-opacity="0.85" stroke-width="1.2"/>
<circle cx="1260.00" cy="616.25" r="5.00" fill="#3a41ad" fill-opacity="0.66" stroke="#505050" stroke-opacity="0.85" stroke-width="1.2"/>
<circle cx="1267.50" cy="618.00" r="5.00" fill="#3a41ad" fill-opacity="0.66" stroke="#505050" stroke-opacity="0.85" stroke-width="1.2"/>
<circle cx="1263.75" cy="665.00" r="5.00" fill="#3a41ad" fill-opacity="0.66" stroke="#505050" stroke-opacity="0.85" stroke-width="1.2"/>
<circle cx="1258.75" cy="708.75" r="5.00" fill="#3a41ad" fill-opacity="0.66" stroke="#505050" stroke-opacity="0.85" stroke-width="1.2"/>
<circle cx="1266.25" cy="709.50" r="5.00" fill="#3a41ad" fill-opacity="0.66" stroke="#505050" stroke-opacity="0.85" stroke-width="1.2"/>
<circle cx="1262.50" cy="721.25" r="5.00" fill="#3a41ad" fill-opacity="0.66" stroke="#505050" stroke-opacity="0.85" stroke-width="1.2"/>
<circle cx="1267.50" cy="726.25" r="5.00" fill="#3a41ad" fill-opacity="0.66" stroke="#505050" stroke-opacity="0.85" stroke-width="1.2"/>
<circle cx="1257.50" cy="730.00" r="5.00" fill="#3a41ad" fill-opacity="0.66" stroke="#505050" stroke-opacity="0.85" stroke-width="1.2"/>
<circle cx="1265.00" cy="731.25" r="5.00" fill="#3a41ad" fill-opacity="0.66" stroke="#505050" stroke-opacity="0.85" stroke-width="1.2"/>
<circle cx="1260.00" cy="738.25" r="5.00" fill="#3a41ad" fill-opacity="0.66" stroke="#505050" stroke-opacity="0.85" stroke-width="1.2"/>
<circle cx="1269.25" cy="737.50" r="5.00" fill="#3a41ad" fill-opacity="0.66" stroke="#505050" stroke-opacity="0.85" stroke-width="1.2"/>
<line x1="1142.50" y1="453.75" x2="1142.50" y2="594.00" stroke="#000" stroke-width="3.80" stroke-linecap="butt"/>
<line x1="1118.50" y1="453.75" x2="1166.50" y2="453.75" stroke="#000" stroke-width="3.80" stroke-linecap="butt"/>
<line x1="1142.50" y1="733.00" x2="1142.50" y2="738.25" stroke="#000" stroke-width="3.80" stroke-linecap="butt"/>
<line x1="1118.50" y1="738.25" x2="1166.50" y2="738.25" stroke="#000" stroke-width="3.80" stroke-linecap="butt"/>
<rect x="1118.80" y="594.00" width="47.40" height="139.00" fill="none" stroke="#000" stroke-width="3.80"/>
<line x1="1118.80" y1="679.40" x2="1166.20" y2="679.40" stroke="#000" stroke-width="3.80" stroke-linecap="butt"/>
<line x1="1263.90" y1="453.75" x2="1263.90" y2="467.60" stroke="#000" stroke-width="3.80" stroke-linecap="butt"/>
<line x1="1239.90" y1="453.75" x2="1287.90" y2="453.75" stroke="#000" stroke-width="3.80" stroke-linecap="butt"/>
<line x1="1263.90" y1="712.00" x2="1263.90" y2="737.50" stroke="#000" stroke-width="3.80" stroke-linecap="butt"/>
<line x1="1239.90" y1="737.50" x2="1287.90" y2="737.50" stroke="#000" stroke-width="3.80" stroke-linecap="butt"/>
<rect x="1240.20" y="467.60" width="47.40" height="244.40" fill="none" stroke="#000" stroke-width="3.80"/>
<line x1="1240.20" y1="599.40" x2="1287.60" y2="599.40" stroke="#000" stroke-width="3.80" stroke-linecap="butt"/>
<rect x="1042.90" y="439.60" width="320.50" height="317.00" fill="none" stroke="#000" stroke-width="3.80"/>
<line x1="1042.90" y1="742.30" x2="1052.90" y2="742.30" stroke="#000" stroke-width="3.60" stroke-linecap="butt"/>
<line x1="1042.90" y1="684.58" x2="1052.90" y2="684.58" stroke="#000" stroke-width="3.60" stroke-linecap="butt"/>
<line x1="1042.90" y1="626.86" x2="1052.90" y2="626.86" stroke="#000" stroke-width="3.60" stroke-linecap="butt"/>
<line x1="1042.90" y1="569.14" x2="1052.90" y2="569.14" stroke="#000" stroke-width="3.60" stroke-linecap="butt"/>
<line x1="1042.90" y1="511.42" x2="1052.90" y2="511.42" stroke="#000" stroke-width="3.60" stroke-linecap="butt"/>
<line x1="1042.90" y1="453.70" x2="1052.90" y2="453.70" stroke="#000" stroke-width="3.60" stroke-linecap="butt"/>
<line x1="1142.50" y1="756.60" x2="1142.50" y2="750.20" stroke="#000" stroke-width="3.80" stroke-linecap="butt"/>
<line x1="1264.20" y1="756.60" x2="1264.20" y2="750.20" stroke="#000" stroke-width="3.80" stroke-linecap="butt"/>
<text transform="translate(1038.00,459.50) scale(1,1.045)" font-size="28.00" text-anchor="end" font-family='"Liberation Sans", Arial, sans-serif'>1.0</text>
<text transform="translate(1038.00,517.30) scale(1,1.045)" font-size="28.00" text-anchor="end" font-family='"Liberation Sans", Arial, sans-serif'>0.8</text>
<text transform="translate(1038.00,574.80) scale(1,1.045)" font-size="28.00" text-anchor="end" font-family='"Liberation Sans", Arial, sans-serif'>0.6</text>
<text transform="translate(1038.00,633.50) scale(1,1.045)" font-size="28.00" text-anchor="end" font-family='"Liberation Sans", Arial, sans-serif'>0.4</text>
<text transform="translate(1038.00,691.40) scale(1,1.045)" font-size="28.00" text-anchor="end" font-family='"Liberation Sans", Arial, sans-serif'>0.2</text>
<text transform="translate(1038.00,748.80) scale(1,1.045)" font-size="28.00" text-anchor="end" font-family='"Liberation Sans", Arial, sans-serif'>0</text>
<text transform="translate(1142.80,786.20) scale(1,1.045)" font-size="28.00" text-anchor="middle" font-family='"Liberation Sans", Arial, sans-serif'>10</text>
<text transform="translate(1263.50,786.20) scale(1,1.045)" font-size="28.00" text-anchor="middle" font-family='"Liberation Sans", Arial, sans-serif'>30</text>
</g>
<g id="dright">
<circle cx="1511.25" cy="461.25" r="5.00" fill="#3a41ad" fill-opacity="0.66" stroke="#505050" stroke-opacity="0.85" stroke-width="1.2"/>
<circle cx="1507.50" cy="467.50" r="5.00" fill="#3a41ad" fill-opacity="0.66" stroke="#505050" stroke-opacity="0.85" stroke-width="1.2"/>
<circle cx="1516.25" cy="467.00" r="5.00" fill="#3a41ad" fill-opacity="0.66" stroke="#505050" stroke-opacity="0.85" stroke-width="1.2"/>
<circle cx="1506.25" cy="474.50" r="5.00" fill="#3a41ad" fill-opacity="0.66" stroke="#505050" stroke-opacity="0.85" stroke-width="1.2"/>
<circle cx="1513.75" cy="476.25" r="5.00" fill="#3a41ad" fill-opacity="0.66" stroke="#505050" stroke-opacity="0.85" stroke-width="1.2"/>
<circle cx="1511.25" cy="483.75" r="5.00" fill="#3a41ad" fill-opacity="0.66" stroke="#505050" stroke-opacity="0.85" stroke-width="1.2"/>
<circle cx="1511.25" cy="536.25" r="5.00" fill="#3a41ad" fill-opacity="0.66" stroke="#505050" stroke-opacity="0.85" stroke-width="1.2"/>
<circle cx="1603.75" cy="455.00" r="5.00" fill="#3a41ad" fill-opacity="0.66" stroke="#505050" stroke-opacity="0.85" stroke-width="1.2"/>
<circle cx="1610.00" cy="454.50" r="5.00" fill="#3a41ad" fill-opacity="0.66" stroke="#505050" stroke-opacity="0.85" stroke-width="1.2"/>
<circle cx="1616.25" cy="455.00" r="5.00" fill="#3a41ad" fill-opacity="0.66" stroke="#505050" stroke-opacity="0.85" stroke-width="1.2"/>
<circle cx="1606.25" cy="461.25" r="5.00" fill="#3a41ad" fill-opacity="0.66" stroke="#505050" stroke-opacity="0.85" stroke-width="1.2"/>
<circle cx="1612.50" cy="462.00" r="5.00" fill="#3a41ad" fill-opacity="0.66" stroke="#505050" stroke-opacity="0.85" stroke-width="1.2"/>
<circle cx="1617.50" cy="460.00" r="5.00" fill="#3a41ad" fill-opacity="0.66" stroke="#505050" stroke-opacity="0.85" stroke-width="1.2"/>
<circle cx="1609.50" cy="565.50" r="5.00" fill="#3a41ad" fill-opacity="0.66" stroke="#505050" stroke-opacity="0.85" stroke-width="1.2"/>
<circle cx="1708.00" cy="471.25" r="5.00" fill="#3a41ad" fill-opacity="0.66" stroke="#505050" stroke-opacity="0.85" stroke-width="1.2"/>
<circle cx="1704.25" cy="600.50" r="5.00" fill="#3a41ad" fill-opacity="0.66" stroke="#505050" stroke-opacity="0.85" stroke-width="1.2"/>
<circle cx="1712.50" cy="599.50" r="5.00" fill="#3a41ad" fill-opacity="0.66" stroke="#505050" stroke-opacity="0.85" stroke-width="1.2"/>
<circle cx="1511.25" cy="612.00" r="5.00" fill="#3a41ad" fill-opacity="0.66" stroke="#505050" stroke-opacity="0.85" stroke-width="1.2"/>
<circle cx="1511.25" cy="667.50" r="5.00" fill="#3a41ad" fill-opacity="0.66" stroke="#505050" stroke-opacity="0.85" stroke-width="1.2"/>
<circle cx="1511.25" cy="679.50" r="5.00" fill="#3a41ad" fill-opacity="0.66" stroke="#505050" stroke-opacity="0.85" stroke-width="1.2"/>
<circle cx="1511.25" cy="708.75" r="5.00" fill="#3a41ad" fill-opacity="0.66" stroke="#505050" stroke-opacity="0.85" stroke-width="1.2"/>
<circle cx="1507.00" cy="713.75" r="5.00" fill="#3a41ad" fill-opacity="0.66" stroke="#505050" stroke-opacity="0.85" stroke-width="1.2"/>
<circle cx="1514.50" cy="715.50" r="5.00" fill="#3a41ad" fill-opacity="0.66" stroke="#505050" stroke-opacity="0.85" stroke-width="1.2"/>
<circle cx="1511.25" cy="721.25" r="5.00" fill="#3a41ad" fill-opacity="0.66" stroke="#505050" stroke-opacity="0.85" stroke-width="1.2"/>
<circle cx="1507.00" cy="731.25" r="5.00" fill="#3a41ad" fill-opacity="0.66" stroke="#505050" stroke-opacity="0.85" stroke-width="1.2"/>
<circle cx="1515.00" cy="731.25" r="5.00" fill="#3a41ad" fill-opacity="0.66" stroke="#505050" stroke-opacity="0.85" stroke-width="1.2"/>
<circle cx="1511.25" cy="740.00" r="5.00" fill="#3a41ad" fill-opacity="0.66" stroke="#505050" stroke-opacity="0.85" stroke-width="1.2"/>
<circle cx="1609.50" cy="611.25" r="5.00" fill="#3a41ad" fill-opacity="0.66" stroke="#505050" stroke-opacity="0.85" stroke-width="1.2"/>
<circle cx="1605.00" cy="617.00" r="5.00" fill="#3a41ad" fill-opacity="0.66" stroke="#505050" stroke-opacity="0.85" stroke-width="1.2"/>
<circle cx="1613.00" cy="618.75" r="5.00" fill="#3a41ad" fill-opacity="0.66" stroke="#505050" stroke-opacity="0.85" stroke-width="1.2"/>
<circle cx="1609.50" cy="665.00" r="5.00" fill="#3a41ad" fill-opacity="0.66" stroke="#505050" stroke-opacity="0.85" stroke-width="1.2"/>
<circle cx="1609.50" cy="709.25" r="5.00" fill="#3a41ad" fill-opacity="0.66" stroke="#505050" stroke-opacity="0.85" stroke-width="1.2"/>
<circle cx="1612.50" cy="723.00" r="5.00" fill="#3a41ad" fill-opacity="0.66" stroke="#505050" stroke-opacity="0.85" stroke-width="1.2"/>
<circle cx="1605.75" cy="726.25" r="5.00" fill="#3a41ad" fill-opacity="0.66" stroke="#505050" stroke-opacity="0.85" stroke-width="1.2"/>
<circle cx="1606.25" cy="738.75" r="5.00" fill="#3a41ad" fill-opacity="0.66" stroke="#505050" stroke-opacity="0.85" stroke-width="1.2"/>
<circle cx="1614.50" cy="737.50" r="5.00" fill="#3a41ad" fill-opacity="0.66" stroke="#505050" stroke-opacity="0.85" stroke-width="1.2"/>
<circle cx="1708.00" cy="720.00" r="5.00" fill="#3a41ad" fill-opacity="0.66" stroke="#505050" stroke-opacity="0.85" stroke-width="1.2"/>
<circle cx="1708.00" cy="730.00" r="5.00" fill="#3a41ad" fill-opacity="0.66" stroke="#505050" stroke-opacity="0.85" stroke-width="1.2"/>
<circle cx="1704.25" cy="738.25" r="5.00" fill="#3a41ad" fill-opacity="0.66" stroke="#505050" stroke-opacity="0.85" stroke-width="1.2"/>
<circle cx="1711.25" cy="737.50" r="5.00" fill="#3a41ad" fill-opacity="0.66" stroke="#505050" stroke-opacity="0.85" stroke-width="1.2"/>
<line x1="1511.30" y1="461.75" x2="1511.30" y2="474.00" stroke="#000" stroke-width="3.80" stroke-linecap="butt"/>
<line x1="1487.30" y1="461.75" x2="1535.30" y2="461.75" stroke="#000" stroke-width="3.80" stroke-linecap="butt"/>
<line x1="1511.30" y1="714.40" x2="1511.30" y2="738.70" stroke="#000" stroke-width="3.80" stroke-linecap="butt"/>
<line x1="1487.30" y1="738.70" x2="1535.30" y2="738.70" stroke="#000" stroke-width="3.80" stroke-linecap="butt"/>
<rect x="1487.60" y="474.00" width="47.40" height="240.40" fill="none" stroke="#000" stroke-width="3.80"/>
<line x1="1487.60" y1="612.90" x2="1535.00" y2="612.90" stroke="#000" stroke-width="3.80" stroke-linecap="butt"/>
<line x1="1609.40" y1="454.25" x2="1609.40" y2="460.00" stroke="#000" stroke-width="3.80" stroke-linecap="butt"/>
<line x1="1585.40" y1="454.25" x2="1633.40" y2="454.25" stroke="#000" stroke-width="3.80" stroke-linecap="butt"/>
<line x1="1609.40" y1="716.25" x2="1609.40" y2="738.70" stroke="#000" stroke-width="3.80" stroke-linecap="butt"/>
<line x1="1585.40" y1="738.70" x2="1633.40" y2="738.70" stroke="#000" stroke-width="3.80" stroke-linecap="butt"/>
<rect x="1585.70" y="460.00" width="47.40" height="256.25" fill="none" stroke="#000" stroke-width="3.80"/>
<line x1="1585.70" y1="614.00" x2="1633.10" y2="614.00" stroke="#000" stroke-width="3.80" stroke-linecap="butt"/>
<line x1="1708.20" y1="471.75" x2="1708.20" y2="600.00" stroke="#000" stroke-width="3.80" stroke-linecap="butt"/>
<line x1="1684.20" y1="471.75" x2="1732.20" y2="471.75" stroke="#000" stroke-width="3.80" stroke-linecap="butt"/>
<line x1="1708.20" y1="736.80" x2="1708.20" y2="738.90" stroke="#000" stroke-width="3.80" stroke-linecap="butt"/>
<line x1="1684.20" y1="738.90" x2="1732.20" y2="738.90" stroke="#000" stroke-width="3.80" stroke-linecap="butt"/>
<rect x="1684.50" y="600.00" width="47.40" height="136.80" fill="none" stroke="#000" stroke-width="3.80"/>
<line x1="1684.50" y1="720.40" x2="1731.90" y2="720.40" stroke="#000" stroke-width="3.80" stroke-linecap="butt"/>
<rect x="1449.60" y="439.60" width="320.40" height="317.00" fill="none" stroke="#000" stroke-width="3.80"/>
<line x1="1449.60" y1="742.30" x2="1459.10" y2="742.30" stroke="#000" stroke-width="3.60" stroke-linecap="butt"/>
<line x1="1449.60" y1="684.58" x2="1459.10" y2="684.58" stroke="#000" stroke-width="3.60" stroke-linecap="butt"/>
<line x1="1449.60" y1="626.86" x2="1459.10" y2="626.86" stroke="#000" stroke-width="3.60" stroke-linecap="butt"/>
<line x1="1449.60" y1="569.14" x2="1459.10" y2="569.14" stroke="#000" stroke-width="3.60" stroke-linecap="butt"/>
<line x1="1449.60" y1="511.42" x2="1459.10" y2="511.42" stroke="#000" stroke-width="3.60" stroke-linecap="butt"/>
<line x1="1449.60" y1="453.70" x2="1459.10" y2="453.70" stroke="#000" stroke-width="3.60" stroke-linecap="butt"/>
<line x1="1511.30" y1="756.60" x2="1511.30" y2="750.20" stroke="#000" stroke-width="3.80" stroke-linecap="butt"/>
<line x1="1609.50" y1="756.60" x2="1609.50" y2="750.20" stroke="#000" stroke-width="3.80" stroke-linecap="butt"/>
<line x1="1708.00" y1="756.60" x2="1708.00" y2="750.20" stroke="#000" stroke-width="3.80" stroke-linecap="butt"/>
<text transform="translate(1445.30,466.70) scale(1,1.045)" font-size="28.00" text-anchor="end" font-family='"Liberation Sans", Arial, sans-serif'>1.0</text>
<text transform="translate(1445.30,517.30) scale(1,1.045)" font-size="28.00" text-anchor="end" font-family='"Liberation Sans", Arial, sans-serif'>0.8</text>
<text transform="translate(1445.30,575.20) scale(1,1.045)" font-size="28.00" text-anchor="end" font-family='"Liberation Sans", Arial, sans-serif'>0.6</text>
<text transform="translate(1445.30,633.90) scale(1,1.045)" font-size="28.00" text-anchor="end" font-family='"Liberation Sans", Arial, sans-serif'>0.4</text>
<text transform="translate(1445.30,691.90) scale(1,1.045)" font-size="28.00" text-anchor="end" font-family='"Liberation Sans", Arial, sans-serif'>0.2</text>
<text transform="translate(1445.30,748.80) scale(1,1.045)" font-size="28.00" text-anchor="end" font-family='"Liberation Sans", Arial, sans-serif'>0</text>
<text transform="translate(1508.00,786.20) scale(1,1.045)" font-size="28.00" text-anchor="middle" font-family='"Liberation Sans", Arial, sans-serif'>-6</text>
<text transform="translate(1609.50,786.20) scale(1,1.045)" font-size="28.00" text-anchor="middle" font-family='"Liberation Sans", Arial, sans-serif'>0</text>
<text transform="translate(1708.00,786.20) scale(1,1.045)" font-size="28.00" text-anchor="middle" font-family='"Liberation Sans", Arial, sans-serif'>6</text>
</g>
<text transform="translate(931.3,296.3) rotate(-90)" font-size="35" font-family='"Liberation Sans", Arial, sans-serif'>Entrainment</text>
<text transform="translate(972.5,321.5) rotate(-90)" font-size="35" font-family='"Liberation Sans", Arial, sans-serif'>Step Ratio, <tspan font-size="28">ESR</tspan></text>
<text transform="translate(931.3,692) rotate(-90)" font-size="35" font-family='"Liberation Sans", Arial, sans-serif'>Entrainment</text>
<text transform="translate(972.5,692) rotate(-90)" font-size="35" font-family='"Liberation Sans", Arial, sans-serif'>Duration,</text>
<text transform="translate(972.9,539.6) rotate(-90)" font-size="28" font-family='"Liberation Serif", "Times New Roman", serif'>Δ</text>
<text transform="translate(972.9,521.0) rotate(-90)" font-size="28.5" font-style="italic" font-family='"Liberation Sans", Arial, sans-serif'>t</text>
<text transform="translate(975.8,512.0) rotate(-90)" font-size="17" font-style="italic" font-family='"Liberation Sans", Arial, sans-serif'>e</text>
<rect x="947" y="508.4" width="3.7" height="8.6" fill="#000"/>
<text x="1117.6" y="827.5" font-size="35" font-family='"Liberation Sans", Arial, sans-serif'><tspan font-style="italic">A</tspan><tspan font-style="italic" font-size="21" dy="3">m</tspan><tspan dy="-3"> (% BW)</tspan></text>
<text x="1553.3" y="827.5" font-size="35" font-family='"Liberation Sans", Arial, sans-serif'><tspan font-family='"Liberation Serif", "Times New Roman", serif'>Δ</tspan><tspan font-style="italic">f</tspan><tspan font-style="italic" font-size="21" dy="3">m</tspan><tspan dy="-3"> (%)</tspan></text>
</svg></body></html>
